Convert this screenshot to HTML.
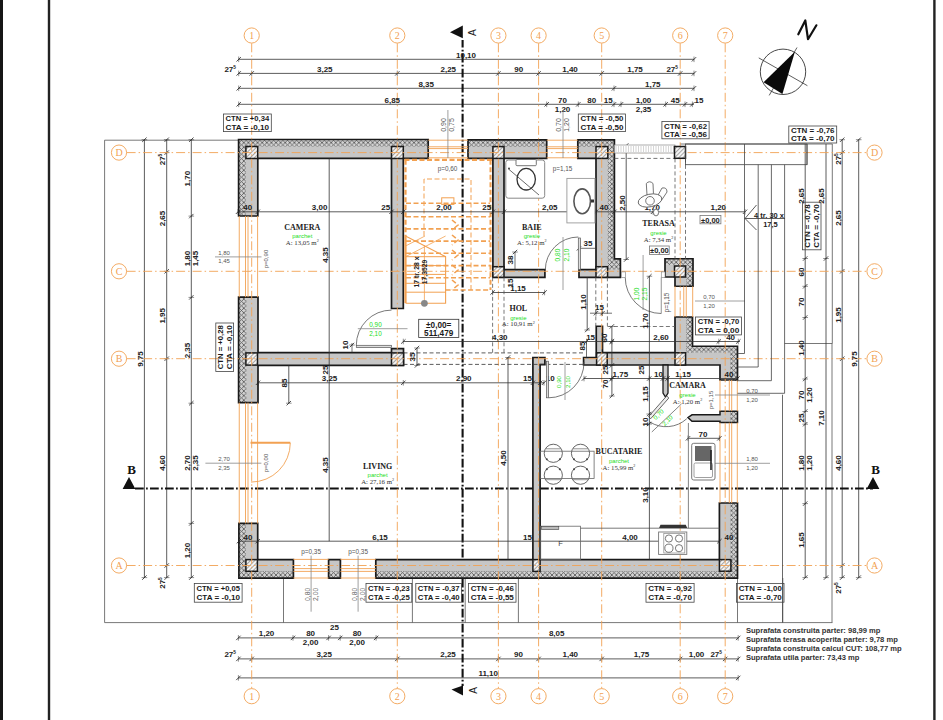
<!DOCTYPE html>
<html><head><meta charset="utf-8"><style>
html,body{margin:0;padding:0;background:#fff;}
svg{display:block;}
</style></head><body>
<svg width="943" height="720" viewBox="0 0 943 720">
<defs>
<pattern id="xh" width="4.6" height="4.6" patternUnits="userSpaceOnUse">
<rect width="4.6" height="4.6" fill="#d2d2d2"/>
<path d="M-1,-1 L5.6,5.6 M5.6,-1 L-1,5.6" stroke="#5a5a5a" stroke-width="0.85"/>
</pattern>
<pattern id="dh" width="3" height="3" patternUnits="userSpaceOnUse" patternTransform="rotate(45)">
<rect width="3" height="3" fill="#f4f4f4"/>
<path d="M0,0 L0,3" stroke="#555" stroke-width="1"/>
</pattern>
</defs>
<rect width="943" height="720" fill="#fff"/>
<rect x="0" y="0" width="3" height="720" fill="#161616" stroke="none" stroke-width="0" />
<rect x="47.8" y="0" width="2.4" height="720" fill="#222" stroke="none" stroke-width="0" />
<rect x="933.2" y="0" width="2.4" height="720" fill="#222" stroke="none" stroke-width="0" />
<circle cx="251.7" cy="35.5" r="7.6" fill="#fff" stroke="#f2a152" stroke-width="0.9"/>
<text x="251.7" y="39.1" font-family="Liberation Serif" font-size="10" font-weight="normal" fill="#f2a152" text-anchor="middle" >1</text>
<circle cx="251.7" cy="696.2" r="7.6" fill="#fff" stroke="#f2a152" stroke-width="0.9"/>
<text x="251.7" y="699.8000000000001" font-family="Liberation Serif" font-size="10" font-weight="normal" fill="#f2a152" text-anchor="middle" >1</text>
<circle cx="397.3" cy="35.5" r="7.6" fill="#fff" stroke="#f2a152" stroke-width="0.9"/>
<text x="397.3" y="39.1" font-family="Liberation Serif" font-size="10" font-weight="normal" fill="#f2a152" text-anchor="middle" >2</text>
<circle cx="397.3" cy="696.2" r="7.6" fill="#fff" stroke="#f2a152" stroke-width="0.9"/>
<text x="397.3" y="699.8000000000001" font-family="Liberation Serif" font-size="10" font-weight="normal" fill="#f2a152" text-anchor="middle" >2</text>
<circle cx="498.4" cy="35.5" r="7.6" fill="#fff" stroke="#f2a152" stroke-width="0.9"/>
<text x="498.4" y="39.1" font-family="Liberation Serif" font-size="10" font-weight="normal" fill="#f2a152" text-anchor="middle" >3</text>
<circle cx="498.4" cy="696.2" r="7.6" fill="#fff" stroke="#f2a152" stroke-width="0.9"/>
<text x="498.4" y="699.8000000000001" font-family="Liberation Serif" font-size="10" font-weight="normal" fill="#f2a152" text-anchor="middle" >3</text>
<circle cx="538.6" cy="35.5" r="7.6" fill="#fff" stroke="#f2a152" stroke-width="0.9"/>
<text x="538.6" y="39.1" font-family="Liberation Serif" font-size="10" font-weight="normal" fill="#f2a152" text-anchor="middle" >4</text>
<circle cx="538.6" cy="696.2" r="7.6" fill="#fff" stroke="#f2a152" stroke-width="0.9"/>
<text x="538.6" y="699.8000000000001" font-family="Liberation Serif" font-size="10" font-weight="normal" fill="#f2a152" text-anchor="middle" >4</text>
<circle cx="601.7" cy="35.5" r="7.6" fill="#fff" stroke="#f2a152" stroke-width="0.9"/>
<text x="601.7" y="39.1" font-family="Liberation Serif" font-size="10" font-weight="normal" fill="#f2a152" text-anchor="middle" >5</text>
<circle cx="601.7" cy="696.2" r="7.6" fill="#fff" stroke="#f2a152" stroke-width="0.9"/>
<text x="601.7" y="699.8000000000001" font-family="Liberation Serif" font-size="10" font-weight="normal" fill="#f2a152" text-anchor="middle" >5</text>
<circle cx="680.2" cy="35.5" r="7.6" fill="#fff" stroke="#f2a152" stroke-width="0.9"/>
<text x="680.2" y="39.1" font-family="Liberation Serif" font-size="10" font-weight="normal" fill="#f2a152" text-anchor="middle" >6</text>
<circle cx="680.2" cy="696.2" r="7.6" fill="#fff" stroke="#f2a152" stroke-width="0.9"/>
<text x="680.2" y="699.8000000000001" font-family="Liberation Serif" font-size="10" font-weight="normal" fill="#f2a152" text-anchor="middle" >6</text>
<circle cx="725.2" cy="35.5" r="7.6" fill="#fff" stroke="#f2a152" stroke-width="0.9"/>
<text x="725.2" y="39.1" font-family="Liberation Serif" font-size="10" font-weight="normal" fill="#f2a152" text-anchor="middle" >7</text>
<circle cx="725.2" cy="696.2" r="7.6" fill="#fff" stroke="#f2a152" stroke-width="0.9"/>
<text x="725.2" y="699.8000000000001" font-family="Liberation Serif" font-size="10" font-weight="normal" fill="#f2a152" text-anchor="middle" >7</text>
<circle cx="119" cy="152.6" r="7.6" fill="#fff" stroke="#f2a152" stroke-width="0.9"/>
<text x="119" y="156.2" font-family="Liberation Serif" font-size="10" font-weight="normal" fill="#f2a152" text-anchor="middle" >D</text>
<circle cx="874.5" cy="152.6" r="7.6" fill="#fff" stroke="#f2a152" stroke-width="0.9"/>
<text x="874.5" y="156.2" font-family="Liberation Serif" font-size="10" font-weight="normal" fill="#f2a152" text-anchor="middle" >D</text>
<circle cx="119" cy="271.3" r="7.6" fill="#fff" stroke="#f2a152" stroke-width="0.9"/>
<text x="119" y="274.90000000000003" font-family="Liberation Serif" font-size="10" font-weight="normal" fill="#f2a152" text-anchor="middle" >C</text>
<circle cx="874.5" cy="271.3" r="7.6" fill="#fff" stroke="#f2a152" stroke-width="0.9"/>
<text x="874.5" y="274.90000000000003" font-family="Liberation Serif" font-size="10" font-weight="normal" fill="#f2a152" text-anchor="middle" >C</text>
<circle cx="119" cy="358.7" r="7.6" fill="#fff" stroke="#f2a152" stroke-width="0.9"/>
<text x="119" y="362.3" font-family="Liberation Serif" font-size="10" font-weight="normal" fill="#f2a152" text-anchor="middle" >B</text>
<circle cx="874.5" cy="358.7" r="7.6" fill="#fff" stroke="#f2a152" stroke-width="0.9"/>
<text x="874.5" y="362.3" font-family="Liberation Serif" font-size="10" font-weight="normal" fill="#f2a152" text-anchor="middle" >B</text>
<circle cx="119" cy="565.5" r="7.6" fill="#fff" stroke="#f2a152" stroke-width="0.9"/>
<text x="119" y="569.1" font-family="Liberation Serif" font-size="10" font-weight="normal" fill="#f2a152" text-anchor="middle" >A</text>
<circle cx="874.5" cy="565.5" r="7.6" fill="#fff" stroke="#f2a152" stroke-width="0.9"/>
<text x="874.5" y="569.1" font-family="Liberation Serif" font-size="10" font-weight="normal" fill="#f2a152" text-anchor="middle" >A</text>
<line x1="104.6" y1="140.2" x2="238.5" y2="140.2" stroke="#555" stroke-width="0.8" />
<line x1="104.6" y1="140.2" x2="104.6" y2="622.6" stroke="#555" stroke-width="0.8" />
<line x1="104.6" y1="622.6" x2="832.4" y2="622.6" stroke="#555" stroke-width="0.8" />
<line x1="680" y1="144" x2="832.3" y2="144" stroke="#555" stroke-width="0.8" />
<line x1="832.3" y1="144" x2="832.3" y2="343.5" stroke="#555" stroke-width="0.8" />
<line x1="784.6" y1="343.5" x2="832.3" y2="343.5" stroke="#555" stroke-width="0.8" />
<line x1="832.0" y1="343.5" x2="832.0" y2="622.6" stroke="#555" stroke-width="0.8" />
<line x1="283.5" y1="578" x2="283.5" y2="622.6" stroke="#555" stroke-width="0.8" />
<line x1="412.4" y1="578" x2="412.4" y2="622.6" stroke="#555" stroke-width="0.8" />
<line x1="465.2" y1="578" x2="465.2" y2="622.6" stroke="#555" stroke-width="0.8" />
<line x1="518.4" y1="578" x2="518.4" y2="622.6" stroke="#555" stroke-width="0.8" />
<line x1="737.5" y1="578" x2="737.5" y2="622.6" stroke="#555" stroke-width="0.8" />
<line x1="782.8" y1="578" x2="782.8" y2="622.6" stroke="#555" stroke-width="0.8" />
<line x1="238.7" y1="59.3" x2="694" y2="59.3" stroke="#333" stroke-width="0.8" />
<line x1="236.5" y1="61.5" x2="240.89999999999998" y2="57.099999999999994" stroke="#222" stroke-width="0.8" />
<line x1="238.7" y1="56.5" x2="238.7" y2="62.099999999999994" stroke="#222" stroke-width="0.5" />
<line x1="691.8" y1="61.5" x2="696.2" y2="57.099999999999994" stroke="#222" stroke-width="0.8" />
<line x1="694" y1="56.5" x2="694" y2="62.099999999999994" stroke="#222" stroke-width="0.5" />
<line x1="238.7" y1="73.4" x2="694" y2="73.4" stroke="#333" stroke-width="0.8" />
<line x1="236.5" y1="75.60000000000001" x2="240.89999999999998" y2="71.2" stroke="#222" stroke-width="0.8" />
<line x1="238.7" y1="70.60000000000001" x2="238.7" y2="76.2" stroke="#222" stroke-width="0.5" />
<line x1="249.5" y1="75.60000000000001" x2="253.89999999999998" y2="71.2" stroke="#222" stroke-width="0.8" />
<line x1="251.7" y1="70.60000000000001" x2="251.7" y2="76.2" stroke="#222" stroke-width="0.5" />
<line x1="395.1" y1="75.60000000000001" x2="399.5" y2="71.2" stroke="#222" stroke-width="0.8" />
<line x1="397.3" y1="70.60000000000001" x2="397.3" y2="76.2" stroke="#222" stroke-width="0.5" />
<line x1="496.2" y1="75.60000000000001" x2="500.59999999999997" y2="71.2" stroke="#222" stroke-width="0.8" />
<line x1="498.4" y1="70.60000000000001" x2="498.4" y2="76.2" stroke="#222" stroke-width="0.5" />
<line x1="536.4" y1="75.60000000000001" x2="540.8000000000001" y2="71.2" stroke="#222" stroke-width="0.8" />
<line x1="538.6" y1="70.60000000000001" x2="538.6" y2="76.2" stroke="#222" stroke-width="0.5" />
<line x1="599.5" y1="75.60000000000001" x2="603.9000000000001" y2="71.2" stroke="#222" stroke-width="0.8" />
<line x1="601.7" y1="70.60000000000001" x2="601.7" y2="76.2" stroke="#222" stroke-width="0.5" />
<line x1="678.0" y1="75.60000000000001" x2="682.4000000000001" y2="71.2" stroke="#222" stroke-width="0.8" />
<line x1="680.2" y1="70.60000000000001" x2="680.2" y2="76.2" stroke="#222" stroke-width="0.5" />
<line x1="691.8" y1="75.60000000000001" x2="696.2" y2="71.2" stroke="#222" stroke-width="0.8" />
<line x1="694" y1="70.60000000000001" x2="694" y2="76.2" stroke="#222" stroke-width="0.5" />
<line x1="238.7" y1="88.3" x2="694" y2="88.3" stroke="#333" stroke-width="0.8" />
<line x1="236.5" y1="90.5" x2="240.89999999999998" y2="86.1" stroke="#222" stroke-width="0.8" />
<line x1="238.7" y1="85.5" x2="238.7" y2="91.1" stroke="#222" stroke-width="0.5" />
<line x1="611.8" y1="90.5" x2="616.2" y2="86.1" stroke="#222" stroke-width="0.8" />
<line x1="614" y1="85.5" x2="614" y2="91.1" stroke="#222" stroke-width="0.5" />
<line x1="691.8" y1="90.5" x2="696.2" y2="86.1" stroke="#222" stroke-width="0.8" />
<line x1="694" y1="85.5" x2="694" y2="91.1" stroke="#222" stroke-width="0.5" />
<line x1="238.7" y1="104.3" x2="694" y2="104.3" stroke="#333" stroke-width="0.8" />
<line x1="236.5" y1="106.5" x2="240.89999999999998" y2="102.1" stroke="#222" stroke-width="0.8" />
<line x1="238.7" y1="101.5" x2="238.7" y2="107.1" stroke="#222" stroke-width="0.5" />
<line x1="544.5" y1="106.5" x2="548.9000000000001" y2="102.1" stroke="#222" stroke-width="0.8" />
<line x1="546.7" y1="101.5" x2="546.7" y2="107.1" stroke="#222" stroke-width="0.5" />
<line x1="576.0999999999999" y1="106.5" x2="580.5" y2="102.1" stroke="#222" stroke-width="0.8" />
<line x1="578.3" y1="101.5" x2="578.3" y2="107.1" stroke="#222" stroke-width="0.5" />
<line x1="611.8" y1="106.5" x2="616.2" y2="102.1" stroke="#222" stroke-width="0.8" />
<line x1="614" y1="101.5" x2="614" y2="107.1" stroke="#222" stroke-width="0.5" />
<line x1="618.8" y1="106.5" x2="623.2" y2="102.1" stroke="#222" stroke-width="0.8" />
<line x1="621" y1="101.5" x2="621" y2="107.1" stroke="#222" stroke-width="0.5" />
<line x1="663.5" y1="106.5" x2="667.9000000000001" y2="102.1" stroke="#222" stroke-width="0.8" />
<line x1="665.7" y1="101.5" x2="665.7" y2="107.1" stroke="#222" stroke-width="0.5" />
<line x1="682.8" y1="106.5" x2="687.2" y2="102.1" stroke="#222" stroke-width="0.8" />
<line x1="685" y1="101.5" x2="685" y2="107.1" stroke="#222" stroke-width="0.5" />
<line x1="690.1999999999999" y1="106.5" x2="694.6" y2="102.1" stroke="#222" stroke-width="0.8" />
<line x1="692.4" y1="101.5" x2="692.4" y2="107.1" stroke="#222" stroke-width="0.5" />
<line x1="238.4" y1="637.9" x2="738.2" y2="637.9" stroke="#333" stroke-width="0.8" />
<line x1="236.20000000000002" y1="640.1" x2="240.6" y2="635.6999999999999" stroke="#222" stroke-width="0.8" />
<line x1="238.4" y1="635.1" x2="238.4" y2="640.6999999999999" stroke="#222" stroke-width="0.5" />
<line x1="290.8" y1="640.1" x2="295.2" y2="635.6999999999999" stroke="#222" stroke-width="0.8" />
<line x1="293" y1="635.1" x2="293" y2="640.6999999999999" stroke="#222" stroke-width="0.5" />
<line x1="326.40000000000003" y1="640.1" x2="330.8" y2="635.6999999999999" stroke="#222" stroke-width="0.8" />
<line x1="328.6" y1="635.1" x2="328.6" y2="640.6999999999999" stroke="#222" stroke-width="0.5" />
<line x1="338.0" y1="640.1" x2="342.4" y2="635.6999999999999" stroke="#222" stroke-width="0.8" />
<line x1="340.2" y1="635.1" x2="340.2" y2="640.6999999999999" stroke="#222" stroke-width="0.5" />
<line x1="373.90000000000003" y1="640.1" x2="378.3" y2="635.6999999999999" stroke="#222" stroke-width="0.8" />
<line x1="376.1" y1="635.1" x2="376.1" y2="640.6999999999999" stroke="#222" stroke-width="0.5" />
<line x1="736.0" y1="640.1" x2="740.4000000000001" y2="635.6999999999999" stroke="#222" stroke-width="0.8" />
<line x1="738.2" y1="635.1" x2="738.2" y2="640.6999999999999" stroke="#222" stroke-width="0.5" />
<line x1="238.4" y1="658.9" x2="738.2" y2="658.9" stroke="#333" stroke-width="0.8" />
<line x1="236.20000000000002" y1="661.1" x2="240.6" y2="656.6999999999999" stroke="#222" stroke-width="0.8" />
<line x1="238.4" y1="656.1" x2="238.4" y2="661.6999999999999" stroke="#222" stroke-width="0.5" />
<line x1="249.5" y1="661.1" x2="253.89999999999998" y2="656.6999999999999" stroke="#222" stroke-width="0.8" />
<line x1="251.7" y1="656.1" x2="251.7" y2="661.6999999999999" stroke="#222" stroke-width="0.5" />
<line x1="395.1" y1="661.1" x2="399.5" y2="656.6999999999999" stroke="#222" stroke-width="0.8" />
<line x1="397.3" y1="656.1" x2="397.3" y2="661.6999999999999" stroke="#222" stroke-width="0.5" />
<line x1="496.2" y1="661.1" x2="500.59999999999997" y2="656.6999999999999" stroke="#222" stroke-width="0.8" />
<line x1="498.4" y1="656.1" x2="498.4" y2="661.6999999999999" stroke="#222" stroke-width="0.5" />
<line x1="536.4" y1="661.1" x2="540.8000000000001" y2="656.6999999999999" stroke="#222" stroke-width="0.8" />
<line x1="538.6" y1="656.1" x2="538.6" y2="661.6999999999999" stroke="#222" stroke-width="0.5" />
<line x1="599.5" y1="661.1" x2="603.9000000000001" y2="656.6999999999999" stroke="#222" stroke-width="0.8" />
<line x1="601.7" y1="656.1" x2="601.7" y2="661.6999999999999" stroke="#222" stroke-width="0.5" />
<line x1="678.0" y1="661.1" x2="682.4000000000001" y2="656.6999999999999" stroke="#222" stroke-width="0.8" />
<line x1="680.2" y1="656.1" x2="680.2" y2="661.6999999999999" stroke="#222" stroke-width="0.5" />
<line x1="723.0" y1="661.1" x2="727.4000000000001" y2="656.6999999999999" stroke="#222" stroke-width="0.8" />
<line x1="725.2" y1="656.1" x2="725.2" y2="661.6999999999999" stroke="#222" stroke-width="0.5" />
<line x1="736.0" y1="661.1" x2="740.4000000000001" y2="656.6999999999999" stroke="#222" stroke-width="0.8" />
<line x1="738.2" y1="656.1" x2="738.2" y2="661.6999999999999" stroke="#222" stroke-width="0.5" />
<line x1="238.4" y1="677.9" x2="738.2" y2="677.9" stroke="#333" stroke-width="0.8" />
<line x1="236.20000000000002" y1="680.1" x2="240.6" y2="675.6999999999999" stroke="#222" stroke-width="0.8" />
<line x1="238.4" y1="675.1" x2="238.4" y2="680.6999999999999" stroke="#222" stroke-width="0.5" />
<line x1="736.0" y1="680.1" x2="740.4000000000001" y2="675.6999999999999" stroke="#222" stroke-width="0.8" />
<line x1="738.2" y1="675.1" x2="738.2" y2="680.6999999999999" stroke="#222" stroke-width="0.5" />
<line x1="144.4" y1="139.7" x2="144.4" y2="577.6" stroke="#333" stroke-width="0.8" />
<line x1="142.20000000000002" y1="141.89999999999998" x2="146.6" y2="137.5" stroke="#222" stroke-width="0.8" />
<line x1="141.6" y1="139.7" x2="147.20000000000002" y2="139.7" stroke="#222" stroke-width="0.5" />
<line x1="142.20000000000002" y1="579.8000000000001" x2="146.6" y2="575.4" stroke="#222" stroke-width="0.8" />
<line x1="141.6" y1="577.6" x2="147.20000000000002" y2="577.6" stroke="#222" stroke-width="0.5" />
<line x1="166.7" y1="139.7" x2="166.7" y2="577.6" stroke="#333" stroke-width="0.8" />
<line x1="164.5" y1="141.89999999999998" x2="168.89999999999998" y2="137.5" stroke="#222" stroke-width="0.8" />
<line x1="163.89999999999998" y1="139.7" x2="169.5" y2="139.7" stroke="#222" stroke-width="0.5" />
<line x1="164.5" y1="154.79999999999998" x2="168.89999999999998" y2="150.4" stroke="#222" stroke-width="0.8" />
<line x1="163.89999999999998" y1="152.6" x2="169.5" y2="152.6" stroke="#222" stroke-width="0.5" />
<line x1="164.5" y1="273.5" x2="168.89999999999998" y2="269.1" stroke="#222" stroke-width="0.8" />
<line x1="163.89999999999998" y1="271.3" x2="169.5" y2="271.3" stroke="#222" stroke-width="0.5" />
<line x1="164.5" y1="360.9" x2="168.89999999999998" y2="356.5" stroke="#222" stroke-width="0.8" />
<line x1="163.89999999999998" y1="358.7" x2="169.5" y2="358.7" stroke="#222" stroke-width="0.5" />
<line x1="164.5" y1="567.7" x2="168.89999999999998" y2="563.3" stroke="#222" stroke-width="0.8" />
<line x1="163.89999999999998" y1="565.5" x2="169.5" y2="565.5" stroke="#222" stroke-width="0.5" />
<line x1="164.5" y1="579.8000000000001" x2="168.89999999999998" y2="575.4" stroke="#222" stroke-width="0.8" />
<line x1="163.89999999999998" y1="577.6" x2="169.5" y2="577.6" stroke="#222" stroke-width="0.5" />
<line x1="191.3" y1="139.7" x2="191.3" y2="577.6" stroke="#333" stroke-width="0.8" />
<line x1="189.10000000000002" y1="141.89999999999998" x2="193.5" y2="137.5" stroke="#222" stroke-width="0.8" />
<line x1="188.5" y1="139.7" x2="194.10000000000002" y2="139.7" stroke="#222" stroke-width="0.5" />
<line x1="189.10000000000002" y1="218.29999999999998" x2="193.5" y2="213.9" stroke="#222" stroke-width="0.8" />
<line x1="188.5" y1="216.1" x2="194.10000000000002" y2="216.1" stroke="#222" stroke-width="0.5" />
<line x1="189.10000000000002" y1="299.59999999999997" x2="193.5" y2="295.2" stroke="#222" stroke-width="0.8" />
<line x1="188.5" y1="297.4" x2="194.10000000000002" y2="297.4" stroke="#222" stroke-width="0.5" />
<line x1="189.10000000000002" y1="405.4" x2="193.5" y2="401.0" stroke="#222" stroke-width="0.8" />
<line x1="188.5" y1="403.2" x2="194.10000000000002" y2="403.2" stroke="#222" stroke-width="0.5" />
<line x1="189.10000000000002" y1="525.6" x2="193.5" y2="521.1999999999999" stroke="#222" stroke-width="0.8" />
<line x1="188.5" y1="523.4" x2="194.10000000000002" y2="523.4" stroke="#222" stroke-width="0.5" />
<line x1="189.10000000000002" y1="579.8000000000001" x2="193.5" y2="575.4" stroke="#222" stroke-width="0.8" />
<line x1="188.5" y1="577.6" x2="194.10000000000002" y2="577.6" stroke="#222" stroke-width="0.5" />
<line x1="805.2" y1="144" x2="805.2" y2="577.6" stroke="#333" stroke-width="0.8" />
<line x1="803.0" y1="260.7" x2="807.4000000000001" y2="256.3" stroke="#222" stroke-width="0.8" />
<line x1="802.4000000000001" y1="258.5" x2="808.0" y2="258.5" stroke="#222" stroke-width="0.5" />
<line x1="803.0" y1="288.5" x2="807.4000000000001" y2="284.1" stroke="#222" stroke-width="0.8" />
<line x1="802.4000000000001" y1="286.3" x2="808.0" y2="286.3" stroke="#222" stroke-width="0.5" />
<line x1="803.0" y1="319.7" x2="807.4000000000001" y2="315.3" stroke="#222" stroke-width="0.8" />
<line x1="802.4000000000001" y1="317.5" x2="808.0" y2="317.5" stroke="#222" stroke-width="0.5" />
<line x1="803.0" y1="381.2" x2="807.4000000000001" y2="376.8" stroke="#222" stroke-width="0.8" />
<line x1="802.4000000000001" y1="379" x2="808.0" y2="379" stroke="#222" stroke-width="0.5" />
<line x1="803.0" y1="413.7" x2="807.4000000000001" y2="409.3" stroke="#222" stroke-width="0.8" />
<line x1="802.4000000000001" y1="411.5" x2="808.0" y2="411.5" stroke="#222" stroke-width="0.5" />
<line x1="803.0" y1="426.4" x2="807.4000000000001" y2="422.0" stroke="#222" stroke-width="0.8" />
<line x1="802.4000000000001" y1="424.2" x2="808.0" y2="424.2" stroke="#222" stroke-width="0.5" />
<line x1="803.0" y1="505.8" x2="807.4000000000001" y2="501.40000000000003" stroke="#222" stroke-width="0.8" />
<line x1="802.4000000000001" y1="503.6" x2="808.0" y2="503.6" stroke="#222" stroke-width="0.5" />
<line x1="803.0" y1="579.8000000000001" x2="807.4000000000001" y2="575.4" stroke="#222" stroke-width="0.8" />
<line x1="802.4000000000001" y1="577.6" x2="808.0" y2="577.6" stroke="#222" stroke-width="0.5" />
<line x1="826.0" y1="144" x2="826.0" y2="577.6" stroke="#333" stroke-width="0.8" />
<line x1="823.8" y1="260.7" x2="828.2" y2="256.3" stroke="#222" stroke-width="0.8" />
<line x1="823.2" y1="258.5" x2="828.8" y2="258.5" stroke="#222" stroke-width="0.5" />
<line x1="823.8" y1="579.8000000000001" x2="828.2" y2="575.4" stroke="#222" stroke-width="0.8" />
<line x1="823.2" y1="577.6" x2="828.8" y2="577.6" stroke="#222" stroke-width="0.5" />
<line x1="842.2" y1="139.7" x2="842.2" y2="577.6" stroke="#333" stroke-width="0.8" />
<line x1="840.0" y1="141.89999999999998" x2="844.4000000000001" y2="137.5" stroke="#222" stroke-width="0.8" />
<line x1="839.4000000000001" y1="139.7" x2="845.0" y2="139.7" stroke="#222" stroke-width="0.5" />
<line x1="840.0" y1="154.79999999999998" x2="844.4000000000001" y2="150.4" stroke="#222" stroke-width="0.8" />
<line x1="839.4000000000001" y1="152.6" x2="845.0" y2="152.6" stroke="#222" stroke-width="0.5" />
<line x1="840.0" y1="273.5" x2="844.4000000000001" y2="269.1" stroke="#222" stroke-width="0.8" />
<line x1="839.4000000000001" y1="271.3" x2="845.0" y2="271.3" stroke="#222" stroke-width="0.5" />
<line x1="840.0" y1="360.9" x2="844.4000000000001" y2="356.5" stroke="#222" stroke-width="0.8" />
<line x1="839.4000000000001" y1="358.7" x2="845.0" y2="358.7" stroke="#222" stroke-width="0.5" />
<line x1="840.0" y1="567.7" x2="844.4000000000001" y2="563.3" stroke="#222" stroke-width="0.8" />
<line x1="839.4000000000001" y1="565.5" x2="845.0" y2="565.5" stroke="#222" stroke-width="0.5" />
<line x1="840.0" y1="579.8000000000001" x2="844.4000000000001" y2="575.4" stroke="#222" stroke-width="0.8" />
<line x1="839.4000000000001" y1="577.6" x2="845.0" y2="577.6" stroke="#222" stroke-width="0.5" />
<line x1="858.7" y1="139.7" x2="858.7" y2="577.6" stroke="#333" stroke-width="0.8" />
<line x1="856.5" y1="141.89999999999998" x2="860.9000000000001" y2="137.5" stroke="#222" stroke-width="0.8" />
<line x1="855.9000000000001" y1="139.7" x2="861.5" y2="139.7" stroke="#222" stroke-width="0.5" />
<line x1="856.5" y1="579.8000000000001" x2="860.9000000000001" y2="575.4" stroke="#222" stroke-width="0.8" />
<line x1="855.9000000000001" y1="577.6" x2="861.5" y2="577.6" stroke="#222" stroke-width="0.5" />
<line x1="462.6" y1="40" x2="462.6" y2="686" stroke="#111" stroke-width="2.1" stroke-dasharray="8.75 2.3 1.7 2.25" stroke-dashoffset="1.25"/>
<line x1="135" y1="488.5" x2="873" y2="488.5" stroke="#111" stroke-width="2.1" stroke-dasharray="8.75 2.3 1.7 2.25"/>
<polygon points="450,32.3 462.8,25.5 462.8,38.2" fill="#111"/>
<polygon points="451.5,689.4 463,685.4 463,695.5" fill="#111"/>
<polygon points="122.6,489 129,477 135.4,489" fill="#111"/>
<polygon points="866.6,489 873,477 879.4,489" fill="#111"/>
<text x="131.5" y="473.5" font-family="Liberation Serif" font-size="13" font-weight="bold" fill="#111" text-anchor="middle" >B</text>
<text x="875.5" y="473.5" font-family="Liberation Serif" font-size="13" font-weight="bold" fill="#111" text-anchor="middle" >B</text>
<text x="476.5" y="32.6" font-family="Liberation Sans" font-size="10" font-weight="normal" fill="#222" text-anchor="middle" transform="rotate(-90 476.5 32.6)" >A</text>
<text x="476.5" y="690.5" font-family="Liberation Sans" font-size="10" font-weight="normal" fill="#222" text-anchor="middle" transform="rotate(-90 476.5 690.5)" >A</text>
<polygon points="238.6,139.5 428.2,139.5 428.2,158.4 403.3,158.4 403.3,308.5 391.5,308.5 391.5,158.4 257.8,158.4 257.8,216 238.6,216" fill="#c6c6c6"/>
<rect x="238.6" y="139.5" width="189.6" height="7.0" fill="url(#xh)" stroke="none" stroke-width="0" />
<rect x="238.6" y="139.5" width="7.3" height="76.5" fill="url(#xh)" stroke="none" stroke-width="0" />
<polygon points="238.6,139.5 428.2,139.5 428.2,158.4 403.3,158.4 403.3,308.5 391.5,308.5 391.5,158.4 257.8,158.4 257.8,216 238.6,216" fill="none" stroke="#1a1a1a" stroke-width="1.7" stroke-linejoin="miter"/>
<rect x="245.9" y="146.5" width="11.8" height="12" fill="url(#dh)" stroke="#1a1a1a" stroke-width="1.5" />
<rect x="391.5" y="146.5" width="11.8" height="12" fill="url(#dh)" stroke="#1a1a1a" stroke-width="1.5" />
<polygon points="468,139.8 546.7,139.8 546.7,158.4 504,158.4 504,269.6 544.9,269.6 544.9,277.3 492.9,277.3 492.9,158.4 468,158.4" fill="#c6c6c6"/>
<rect x="468" y="139.8" width="78.7" height="6.9" fill="url(#xh)" stroke="none" stroke-width="0" />
<polygon points="468,139.8 546.7,139.8 546.7,158.4 504,158.4 504,269.6 544.9,269.6 544.9,277.3 492.9,277.3 492.9,158.4 468,158.4" fill="none" stroke="#1a1a1a" stroke-width="1.7" stroke-linejoin="miter"/>
<rect x="492.9" y="146.6" width="11.1" height="11.8" fill="url(#dh)" stroke="#1a1a1a" stroke-width="1.5" />
<rect x="492.9" y="266.7" width="11.1" height="10.6" fill="url(#dh)" stroke="#1a1a1a" stroke-width="1.5" />
<polygon points="577.8,139.8 614.4,139.8 614.4,258.9 620.4,258.9 620.4,277.3 579,277.3 579,269.6 596,269.6 596,158.4 577.8,158.4" fill="#c6c6c6"/>
<rect x="577.8" y="139.8" width="36.6" height="6.9" fill="url(#xh)" stroke="none" stroke-width="0" />
<rect x="607.8" y="139.8" width="6.6" height="119.1" fill="url(#xh)" stroke="none" stroke-width="0" />
<rect x="607.8" y="258.9" width="12.6" height="10.7" fill="url(#xh)" stroke="none" stroke-width="0" />
<polygon points="577.8,139.8 614.4,139.8 614.4,258.9 620.4,258.9 620.4,277.3 579,277.3 579,269.6 596,269.6 596,158.4 577.8,158.4" fill="none" stroke="#1a1a1a" stroke-width="1.7" stroke-linejoin="miter"/>
<rect x="596" y="146.6" width="11.8" height="11.8" fill="url(#dh)" stroke="#1a1a1a" stroke-width="1.5" />
<rect x="596" y="266.7" width="11.6" height="10.6" fill="url(#dh)" stroke="#1a1a1a" stroke-width="1.5" />
<polygon points="238.6,297.2 258,297.2 258,352.7 391.5,352.7 391.5,348.6 403.5,348.6 403.5,365.4 258,365.4 258,402.6 238.6,402.6" fill="#c6c6c6"/>
<rect x="238.6" y="297.2" width="7.9" height="105.4" fill="url(#xh)" stroke="none" stroke-width="0" />
<polygon points="238.6,297.2 258,297.2 258,352.7 391.5,352.7 391.5,348.6 403.5,348.6 403.5,365.4 258,365.4 258,402.6 238.6,402.6" fill="none" stroke="#1a1a1a" stroke-width="1.7" stroke-linejoin="miter"/>
<rect x="245.9" y="352.9" width="11.6" height="12.2" fill="url(#dh)" stroke="#1a1a1a" stroke-width="1.5" />
<rect x="391.5" y="352.9" width="12" height="12.5" fill="url(#dh)" stroke="#1a1a1a" stroke-width="1.5" />
<polygon points="238.9,523.4 257.7,523.4 257.7,559.6 293.4,559.6 293.4,578.1 238.9,578.1" fill="#c6c6c6"/>
<rect x="238.9" y="523.4" width="7.1" height="54.7" fill="url(#xh)" stroke="none" stroke-width="0" />
<rect x="238.9" y="571.0" width="54.5" height="7.1" fill="url(#xh)" stroke="none" stroke-width="0" />
<polygon points="238.9,523.4 257.7,523.4 257.7,559.6 293.4,559.6 293.4,578.1 238.9,578.1" fill="none" stroke="#1a1a1a" stroke-width="1.7" stroke-linejoin="miter"/>
<rect x="245.9" y="559.6" width="11.5" height="11.7" fill="url(#dh)" stroke="#1a1a1a" stroke-width="1.5" />
<polygon points="328.6,559.6 340.4,559.6 340.4,578.1 328.6,578.1" fill="#c6c6c6"/>
<rect x="328.6" y="571.0" width="11.8" height="7.1" fill="url(#xh)" stroke="none" stroke-width="0" />
<polygon points="328.6,559.6 340.4,559.6 340.4,578.1 328.6,578.1" fill="none" stroke="#1a1a1a" stroke-width="1.7" stroke-linejoin="miter"/>
<polygon points="375.8,559.6 532.9,559.6 532.9,364.6 532.9,357.5 544.9,357.5 544.9,364.6 540.1,364.6 540.1,559.6 719.4,559.6 719.4,503 737.5,503 737.5,578.1 375.8,578.1" fill="#c6c6c6"/>
<rect x="375.8" y="571.0" width="361.7" height="7.1" fill="url(#xh)" stroke="none" stroke-width="0" />
<rect x="730.4" y="503" width="7.1" height="75.1" fill="url(#xh)" stroke="none" stroke-width="0" />
<polygon points="375.8,559.6 532.9,559.6 532.9,364.6 532.9,357.5 544.9,357.5 544.9,364.6 540.1,364.6 540.1,559.6 719.4,559.6 719.4,503 737.5,503 737.5,578.1 375.8,578.1" fill="none" stroke="#1a1a1a" stroke-width="1.7" stroke-linejoin="miter"/>
<rect x="532.9" y="559.6" width="7.2" height="11.8" fill="url(#dh)" stroke="#1a1a1a" stroke-width="1.5" />
<rect x="719.4" y="559.6" width="11.5" height="11.6" fill="url(#dh)" stroke="#1a1a1a" stroke-width="1.5" />
<polygon points="583.6,357.5 596.25,357.5 596.25,326.25 602.5,326.25 602.5,352.6 675,352.6 675,317 692.5,317 692.5,346.25 737.5,346.25 737.5,380 720,380 720,365 583.6,365" fill="#c6c6c6"/>
<rect x="686.2" y="317" width="6.3" height="35.6" fill="url(#xh)" stroke="none" stroke-width="0" />
<rect x="686.2" y="346.25" width="51.3" height="6.3" fill="url(#xh)" stroke="none" stroke-width="0" />
<rect x="730.2" y="346.25" width="7.3" height="33.75" fill="url(#xh)" stroke="none" stroke-width="0" />
<polygon points="583.6,357.5 596.25,357.5 596.25,326.25 602.5,326.25 602.5,352.6 675,352.6 675,317 692.5,317 692.5,346.25 737.5,346.25 737.5,380 720,380 720,365 583.6,365" fill="none" stroke="#1a1a1a" stroke-width="1.7" stroke-linejoin="miter"/>
<rect x="596.6" y="352.8" width="10.6" height="12.2" fill="url(#dh)" stroke="#1a1a1a" stroke-width="1.5" />
<rect x="675" y="352.8" width="10.6" height="12.2" fill="url(#dh)" stroke="#1a1a1a" stroke-width="1.5" />
<polygon points="665,258.75 693,258.75 693,286.25 675,286.25 675,277 665,277" fill="#c6c6c6"/>
<rect x="665" y="258.75" width="28" height="6.3" fill="url(#xh)" stroke="none" stroke-width="0" />
<rect x="686.2" y="258.75" width="6.8" height="27.5" fill="url(#xh)" stroke="none" stroke-width="0" />
<polygon points="665,258.75 693,258.75 693,286.25 675,286.25 675,277 665,277" fill="none" stroke="#1a1a1a" stroke-width="1.7" stroke-linejoin="miter"/>
<rect x="674.5" y="266" width="11" height="11" fill="url(#dh)" stroke="#1a1a1a" stroke-width="1.5" />
<polygon points="663,365 668,365 668,393 665.5,397 663,393" fill="#c6c6c6" stroke="#1a1a1a" stroke-width="1.3" stroke-linejoin="miter"/>
<polygon points="688,417.5 692,414.8 720,414.8 720,411.2 737.5,411.2 737.5,422.6 720,422.6 720,421.3 692,421.3" fill="#c6c6c6"/>
<rect x="730.2" y="411.2" width="7.3" height="11.4" fill="url(#xh)" stroke="none" stroke-width="0" />
<polygon points="688,417.5 692,414.8 720,414.8 720,411.2 737.5,411.2 737.5,422.6 720,422.6 720,421.3 692,421.3" fill="none" stroke="#1a1a1a" stroke-width="1.5" stroke-linejoin="miter"/>
<line x1="251.7" y1="43.3" x2="251.7" y2="688.4" stroke="#f2a152" stroke-width="0.9" stroke-dasharray="9 3 1.5 3"/>
<line x1="397.3" y1="43.3" x2="397.3" y2="688.4" stroke="#f2a152" stroke-width="0.9" stroke-dasharray="9 3 1.5 3"/>
<line x1="498.4" y1="43.3" x2="498.4" y2="688.4" stroke="#f2a152" stroke-width="0.9" stroke-dasharray="9 3 1.5 3"/>
<line x1="538.6" y1="43.3" x2="538.6" y2="688.4" stroke="#f2a152" stroke-width="0.9" stroke-dasharray="9 3 1.5 3"/>
<line x1="601.7" y1="43.3" x2="601.7" y2="688.4" stroke="#f2a152" stroke-width="0.9" stroke-dasharray="9 3 1.5 3"/>
<line x1="680.2" y1="43.3" x2="680.2" y2="688.4" stroke="#f2a152" stroke-width="0.9" stroke-dasharray="9 3 1.5 3"/>
<line x1="725.2" y1="43.3" x2="725.2" y2="688.4" stroke="#f2a152" stroke-width="0.9" stroke-dasharray="9 3 1.5 3"/>
<line x1="126.6" y1="152.6" x2="866.9" y2="152.6" stroke="#f2a152" stroke-width="0.9" stroke-dasharray="9 3 1.5 3"/>
<line x1="126.6" y1="271.3" x2="866.9" y2="271.3" stroke="#f2a152" stroke-width="0.9" stroke-dasharray="9 3 1.5 3"/>
<line x1="126.6" y1="358.7" x2="866.9" y2="358.7" stroke="#f2a152" stroke-width="0.9" stroke-dasharray="9 3 1.5 3"/>
<line x1="126.6" y1="565.5" x2="866.9" y2="565.5" stroke="#f2a152" stroke-width="0.9" stroke-dasharray="9 3 1.5 3"/>
<text x="466" y="57.6" font-family="Liberation Sans" font-size="8" font-weight="bold" fill="#222" text-anchor="middle" >10,10</text>
<text x="236" y="71.8" font-family="Liberation Sans" font-size="8" font-weight="bold" fill="#222" text-anchor="end">27<tspan font-size="4.8" dy="-3">5</tspan></text>
<text x="324.8" y="71.8" font-family="Liberation Sans" font-size="8" font-weight="bold" fill="#222" text-anchor="middle" >3,25</text>
<text x="448.3" y="71.8" font-family="Liberation Sans" font-size="8" font-weight="bold" fill="#222" text-anchor="middle" >2,25</text>
<text x="518.7" y="71.8" font-family="Liberation Sans" font-size="8" font-weight="bold" fill="#222" text-anchor="middle" >90</text>
<text x="570" y="71.8" font-family="Liberation Sans" font-size="8" font-weight="bold" fill="#222" text-anchor="middle" >1,40</text>
<text x="635" y="71.8" font-family="Liberation Sans" font-size="8" font-weight="bold" fill="#222" text-anchor="middle" >1,75</text>
<text x="678" y="71.8" font-family="Liberation Sans" font-size="8" font-weight="bold" fill="#222" text-anchor="end">27<tspan font-size="4.8" dy="-3">5</tspan></text>
<text x="426.2" y="86.6" font-family="Liberation Sans" font-size="8" font-weight="bold" fill="#222" text-anchor="middle" >8,35</text>
<text x="652.8" y="86.6" font-family="Liberation Sans" font-size="8" font-weight="bold" fill="#222" text-anchor="middle" >1,75</text>
<text x="392.3" y="102.6" font-family="Liberation Sans" font-size="8" font-weight="bold" fill="#222" text-anchor="middle" >6,85</text>
<text x="562.5" y="102.6" font-family="Liberation Sans" font-size="8" font-weight="bold" fill="#222" text-anchor="middle" >70</text>
<text x="562.5" y="112" font-family="Liberation Sans" font-size="8" font-weight="bold" fill="#222" text-anchor="middle" >1,20</text>
<text x="591.8" y="102.6" font-family="Liberation Sans" font-size="8" font-weight="bold" fill="#222" text-anchor="middle" >80</text>
<text x="608.3" y="102.6" font-family="Liberation Sans" font-size="8" font-weight="bold" fill="#222" text-anchor="middle" >15</text>
<text x="643.5" y="102.6" font-family="Liberation Sans" font-size="8" font-weight="bold" fill="#222" text-anchor="middle" >1,00</text>
<text x="643.5" y="112" font-family="Liberation Sans" font-size="8" font-weight="bold" fill="#222" text-anchor="middle" >2,35</text>
<text x="675.3" y="102.6" font-family="Liberation Sans" font-size="8" font-weight="bold" fill="#222" text-anchor="middle" >45</text>
<text x="699" y="102.6" font-family="Liberation Sans" font-size="8" font-weight="bold" fill="#222" text-anchor="middle" >15</text>
<text x="266.5" y="636.2" font-family="Liberation Sans" font-size="8" font-weight="bold" fill="#222" text-anchor="middle" >1,20</text>
<text x="310.6" y="636.2" font-family="Liberation Sans" font-size="8" font-weight="bold" fill="#222" text-anchor="middle" >80</text>
<text x="310.6" y="645.2" font-family="Liberation Sans" font-size="8" font-weight="bold" fill="#222" text-anchor="middle" >2,00</text>
<text x="334.4" y="630.2" font-family="Liberation Sans" font-size="8" font-weight="bold" fill="#222" text-anchor="middle" >25</text>
<text x="357.1" y="636.2" font-family="Liberation Sans" font-size="8" font-weight="bold" fill="#222" text-anchor="middle" >80</text>
<text x="357.1" y="645.2" font-family="Liberation Sans" font-size="8" font-weight="bold" fill="#222" text-anchor="middle" >2,00</text>
<text x="556.7" y="636.2" font-family="Liberation Sans" font-size="8" font-weight="bold" fill="#222" text-anchor="middle" >8,05</text>
<text x="236" y="657.2" font-family="Liberation Sans" font-size="8" font-weight="bold" fill="#222" text-anchor="end">27<tspan font-size="4.8" dy="-3">5</tspan></text>
<text x="324.2" y="657.2" font-family="Liberation Sans" font-size="8" font-weight="bold" fill="#222" text-anchor="middle" >3,25</text>
<text x="448" y="657.2" font-family="Liberation Sans" font-size="8" font-weight="bold" fill="#222" text-anchor="middle" >2,25</text>
<text x="518.4" y="657.2" font-family="Liberation Sans" font-size="8" font-weight="bold" fill="#222" text-anchor="middle" >90</text>
<text x="570.3" y="657.2" font-family="Liberation Sans" font-size="8" font-weight="bold" fill="#222" text-anchor="middle" >1,40</text>
<text x="641.5" y="657.2" font-family="Liberation Sans" font-size="8" font-weight="bold" fill="#222" text-anchor="middle" >1,75</text>
<text x="696.5" y="657.2" font-family="Liberation Sans" font-size="8" font-weight="bold" fill="#222" text-anchor="middle" >1,00</text>
<text x="722" y="657.2" font-family="Liberation Sans" font-size="8" font-weight="bold" fill="#222" text-anchor="end">27<tspan font-size="4.8" dy="-3">5</tspan></text>
<text x="488.2" y="676.2" font-family="Liberation Sans" font-size="8" font-weight="bold" fill="#222" text-anchor="middle" >11,10</text>
<text x="165" y="159.5" font-family="Liberation Sans" font-size="8" font-weight="bold" fill="#222" text-anchor="middle" transform="rotate(-90 165 159.5)">27<tspan font-size="4.8" dy="-3">5</tspan></text>
<text x="165" y="218.5" font-family="Liberation Sans" font-size="8" font-weight="bold" fill="#222" text-anchor="middle" transform="rotate(-90 165 218.5)" >2,65</text>
<text x="165" y="315.8" font-family="Liberation Sans" font-size="8" font-weight="bold" fill="#222" text-anchor="middle" transform="rotate(-90 165 315.8)" >1,95</text>
<text x="165" y="463" font-family="Liberation Sans" font-size="8" font-weight="bold" fill="#222" text-anchor="middle" transform="rotate(-90 165 463)" >4,60</text>
<text x="165" y="583" font-family="Liberation Sans" font-size="8" font-weight="bold" fill="#222" text-anchor="middle" transform="rotate(-90 165 583)">27<tspan font-size="4.8" dy="-3">5</tspan></text>
<text x="189.6" y="178.6" font-family="Liberation Sans" font-size="8" font-weight="bold" fill="#222" text-anchor="middle" transform="rotate(-90 189.6 178.6)" >1,70</text>
<text x="189.6" y="258.5" font-family="Liberation Sans" font-size="8" font-weight="bold" fill="#222" text-anchor="middle" transform="rotate(-90 189.6 258.5)" >1,80</text>
<text x="198" y="258.5" font-family="Liberation Sans" font-size="8" font-weight="bold" fill="#222" text-anchor="middle" transform="rotate(-90 198 258.5)" >1,45</text>
<text x="189.6" y="350.5" font-family="Liberation Sans" font-size="8" font-weight="bold" fill="#222" text-anchor="middle" transform="rotate(-90 189.6 350.5)" >2,35</text>
<text x="189.6" y="463" font-family="Liberation Sans" font-size="8" font-weight="bold" fill="#222" text-anchor="middle" transform="rotate(-90 189.6 463)" >2,70</text>
<text x="198" y="463" font-family="Liberation Sans" font-size="8" font-weight="bold" fill="#222" text-anchor="middle" transform="rotate(-90 198 463)" >2,35</text>
<text x="189.6" y="550.5" font-family="Liberation Sans" font-size="8" font-weight="bold" fill="#222" text-anchor="middle" transform="rotate(-90 189.6 550.5)" >1,20</text>
<text x="142.7" y="359" font-family="Liberation Sans" font-size="8" font-weight="bold" fill="#222" text-anchor="middle" transform="rotate(-90 142.7 359)" >9,75</text>
<text x="803.5" y="196" font-family="Liberation Sans" font-size="8" font-weight="bold" fill="#222" text-anchor="middle" transform="rotate(-90 803.5 196)" >2,65</text>
<text x="803.5" y="272" font-family="Liberation Sans" font-size="8" font-weight="bold" fill="#222" text-anchor="middle" transform="rotate(-90 803.5 272)" >60</text>
<text x="803.5" y="302" font-family="Liberation Sans" font-size="8" font-weight="bold" fill="#222" text-anchor="middle" transform="rotate(-90 803.5 302)" >70</text>
<text x="803.5" y="348" font-family="Liberation Sans" font-size="8" font-weight="bold" fill="#222" text-anchor="middle" transform="rotate(-90 803.5 348)" >1,40</text>
<text x="803.5" y="395" font-family="Liberation Sans" font-size="8" font-weight="bold" fill="#222" text-anchor="middle" transform="rotate(-90 803.5 395)" >70</text>
<text x="812" y="395" font-family="Liberation Sans" font-size="8" font-weight="bold" fill="#222" text-anchor="middle" transform="rotate(-90 812 395)" >1,20</text>
<text x="803.5" y="418" font-family="Liberation Sans" font-size="8" font-weight="bold" fill="#222" text-anchor="middle" transform="rotate(-90 803.5 418)" >25</text>
<text x="803.5" y="463" font-family="Liberation Sans" font-size="8" font-weight="bold" fill="#222" text-anchor="middle" transform="rotate(-90 803.5 463)" >1,80</text>
<text x="812" y="463" font-family="Liberation Sans" font-size="8" font-weight="bold" fill="#222" text-anchor="middle" transform="rotate(-90 812 463)" >1,20</text>
<text x="803.5" y="540" font-family="Liberation Sans" font-size="8" font-weight="bold" fill="#222" text-anchor="middle" transform="rotate(-90 803.5 540)" >1,65</text>
<text x="824.3" y="196" font-family="Liberation Sans" font-size="8" font-weight="bold" fill="#222" text-anchor="middle" transform="rotate(-90 824.3 196)" >2,65</text>
<text x="824.3" y="418" font-family="Liberation Sans" font-size="8" font-weight="bold" fill="#222" text-anchor="middle" transform="rotate(-90 824.3 418)" >7,10</text>
<text x="840.5" y="159" font-family="Liberation Sans" font-size="8" font-weight="bold" fill="#222" text-anchor="middle" transform="rotate(-90 840.5 159)">27<tspan font-size="4.8" dy="-3">5</tspan></text>
<text x="840.5" y="218" font-family="Liberation Sans" font-size="8" font-weight="bold" fill="#222" text-anchor="middle" transform="rotate(-90 840.5 218)" >2,65</text>
<text x="840.5" y="315" font-family="Liberation Sans" font-size="8" font-weight="bold" fill="#222" text-anchor="middle" transform="rotate(-90 840.5 315)" >1,95</text>
<text x="840.5" y="463" font-family="Liberation Sans" font-size="8" font-weight="bold" fill="#222" text-anchor="middle" transform="rotate(-90 840.5 463)" >4,60</text>
<text x="840.5" y="588" font-family="Liberation Sans" font-size="8" font-weight="bold" fill="#222" text-anchor="middle" transform="rotate(-90 840.5 588)">27<tspan font-size="4.8" dy="-3">5</tspan></text>
<text x="857" y="359" font-family="Liberation Sans" font-size="8" font-weight="bold" fill="#222" text-anchor="middle" transform="rotate(-90 857 359)" >9,75</text>
<rect x="223.4" y="114" width="47.900000000000006" height="17.599999999999994" fill="none" stroke="#444" stroke-width="0.8" />
<text x="247.35000000000002" y="121.216" font-family="Liberation Sans" font-size="8.0" font-weight="bold" fill="#1a1a1a" text-anchor="middle" textLength="43.6" lengthAdjust="spacingAndGlyphs">CTN = +0,34</text>
<text x="247.35000000000002" y="129.576" font-family="Liberation Sans" font-size="8.0" font-weight="bold" fill="#1a1a1a" text-anchor="middle" textLength="43.6" lengthAdjust="spacingAndGlyphs">CTA = -0,10</text>
<rect x="578.3" y="114" width="47.30000000000007" height="17.599999999999994" fill="none" stroke="#444" stroke-width="0.8" />
<text x="601.95" y="121.216" font-family="Liberation Sans" font-size="8.0" font-weight="bold" fill="#1a1a1a" text-anchor="middle" textLength="43.0" lengthAdjust="spacingAndGlyphs">CTN = -0,50</text>
<text x="601.95" y="129.576" font-family="Liberation Sans" font-size="8.0" font-weight="bold" fill="#1a1a1a" text-anchor="middle" textLength="43.0" lengthAdjust="spacingAndGlyphs">CTA = -0,50</text>
<rect x="661.9" y="121.5" width="47.200000000000045" height="17.30000000000001" fill="none" stroke="#444" stroke-width="0.8" />
<text x="685.5" y="128.59300000000002" font-family="Liberation Sans" font-size="8.0" font-weight="bold" fill="#1a1a1a" text-anchor="middle" textLength="43.0" lengthAdjust="spacingAndGlyphs">CTN = -0,62</text>
<text x="685.5" y="136.81050000000002" font-family="Liberation Sans" font-size="8.0" font-weight="bold" fill="#1a1a1a" text-anchor="middle" textLength="43.0" lengthAdjust="spacingAndGlyphs">CTA = -0,56</text>
<rect x="788.8" y="126" width="47.90000000000009" height="17" fill="none" stroke="#444" stroke-width="0.8" />
<text x="812.75" y="132.97" font-family="Liberation Sans" font-size="8.0" font-weight="bold" fill="#1a1a1a" text-anchor="middle" textLength="43.6" lengthAdjust="spacingAndGlyphs">CTN = -0,76</text>
<text x="812.75" y="141.045" font-family="Liberation Sans" font-size="8.0" font-weight="bold" fill="#1a1a1a" text-anchor="middle" textLength="43.6" lengthAdjust="spacingAndGlyphs">CTA = -0,70</text>
<rect x="802.6" y="202.2" width="18.399999999999977" height="47.60000000000002" fill="none" stroke="#444" stroke-width="0.8" />
<text x="810.144" y="226.0" font-family="Liberation Sans" font-size="8.0" font-weight="bold" fill="#1a1a1a" text-anchor="middle" transform="rotate(-90 810.144 226.0)" textLength="43.3" lengthAdjust="spacingAndGlyphs">CTN = -0,78</text>
<text x="818.884" y="226.0" font-family="Liberation Sans" font-size="8.0" font-weight="bold" fill="#1a1a1a" text-anchor="middle" transform="rotate(-90 818.884 226.0)" textLength="43.3" lengthAdjust="spacingAndGlyphs">CTA = -0,70</text>
<rect x="215.8" y="323" width="17.799999999999983" height="48.39999999999998" fill="none" stroke="#444" stroke-width="0.8" />
<text x="223.098" y="347.2" font-family="Liberation Sans" font-size="8.0" font-weight="bold" fill="#1a1a1a" text-anchor="middle" transform="rotate(-90 223.098 347.2)" textLength="44.0" lengthAdjust="spacingAndGlyphs">CTN = +0,28</text>
<text x="231.553" y="347.2" font-family="Liberation Sans" font-size="8.0" font-weight="bold" fill="#1a1a1a" text-anchor="middle" transform="rotate(-90 231.553 347.2)" textLength="44.0" lengthAdjust="spacingAndGlyphs">CTA = -0,10</text>
<rect x="695.6" y="317" width="45.799999999999955" height="17.899999999999977" fill="none" stroke="#444" stroke-width="0.8" />
<text x="718.5" y="324.339" font-family="Liberation Sans" font-size="8.0" font-weight="bold" fill="#1a1a1a" text-anchor="middle" textLength="41.7" lengthAdjust="spacingAndGlyphs">CTN = -0,70</text>
<text x="718.5" y="332.8415" font-family="Liberation Sans" font-size="8.0" font-weight="bold" fill="#1a1a1a" text-anchor="middle" textLength="41.7" lengthAdjust="spacingAndGlyphs">CTA = 0,00</text>
<rect x="194.3" y="583.6" width="47.79999999999998" height="18.600000000000023" fill="none" stroke="#444" stroke-width="0.8" />
<text x="218.2" y="591.226" font-family="Liberation Sans" font-size="8.0" font-weight="bold" fill="#1a1a1a" text-anchor="middle" textLength="43.5" lengthAdjust="spacingAndGlyphs">CTN = +0,05</text>
<text x="218.2" y="600.061" font-family="Liberation Sans" font-size="8.0" font-weight="bold" fill="#1a1a1a" text-anchor="middle" textLength="43.5" lengthAdjust="spacingAndGlyphs">CTA = -0,10</text>
<rect x="366" y="583.6" width="45.80000000000001" height="18.600000000000023" fill="none" stroke="#444" stroke-width="0.8" />
<text x="388.9" y="591.226" font-family="Liberation Sans" font-size="8.0" font-weight="bold" fill="#1a1a1a" text-anchor="middle" textLength="41.7" lengthAdjust="spacingAndGlyphs">CTN = -0,23</text>
<text x="388.9" y="600.061" font-family="Liberation Sans" font-size="8.0" font-weight="bold" fill="#1a1a1a" text-anchor="middle" textLength="41.7" lengthAdjust="spacingAndGlyphs">CTA = -0,25</text>
<rect x="415.8" y="583.6" width="45.80000000000001" height="18.600000000000023" fill="none" stroke="#444" stroke-width="0.8" />
<text x="438.70000000000005" y="591.226" font-family="Liberation Sans" font-size="8.0" font-weight="bold" fill="#1a1a1a" text-anchor="middle" textLength="41.7" lengthAdjust="spacingAndGlyphs">CTN = -0,37</text>
<text x="438.70000000000005" y="600.061" font-family="Liberation Sans" font-size="8.0" font-weight="bold" fill="#1a1a1a" text-anchor="middle" textLength="41.7" lengthAdjust="spacingAndGlyphs">CTA = -0,40</text>
<rect x="468.5" y="583.6" width="47.5" height="18.600000000000023" fill="none" stroke="#444" stroke-width="0.8" />
<text x="492.25" y="591.226" font-family="Liberation Sans" font-size="8.0" font-weight="bold" fill="#1a1a1a" text-anchor="middle" textLength="43.2" lengthAdjust="spacingAndGlyphs">CTN = -0,46</text>
<text x="492.25" y="600.061" font-family="Liberation Sans" font-size="8.0" font-weight="bold" fill="#1a1a1a" text-anchor="middle" textLength="43.2" lengthAdjust="spacingAndGlyphs">CTA = -0,55</text>
<rect x="646" y="583.6" width="48.10000000000002" height="18.600000000000023" fill="none" stroke="#444" stroke-width="0.8" />
<text x="670.05" y="591.226" font-family="Liberation Sans" font-size="8.0" font-weight="bold" fill="#1a1a1a" text-anchor="middle" textLength="43.8" lengthAdjust="spacingAndGlyphs">CTN = -0,92</text>
<text x="670.05" y="600.061" font-family="Liberation Sans" font-size="8.0" font-weight="bold" fill="#1a1a1a" text-anchor="middle" textLength="43.8" lengthAdjust="spacingAndGlyphs">CTA = -0,70</text>
<rect x="736.5" y="583.6" width="47.5" height="18.600000000000023" fill="none" stroke="#444" stroke-width="0.8" />
<text x="760.25" y="591.226" font-family="Liberation Sans" font-size="8.0" font-weight="bold" fill="#1a1a1a" text-anchor="middle" textLength="43.2" lengthAdjust="spacingAndGlyphs">CTN = -1,00</text>
<text x="760.25" y="600.061" font-family="Liberation Sans" font-size="8.0" font-weight="bold" fill="#1a1a1a" text-anchor="middle" textLength="43.2" lengthAdjust="spacingAndGlyphs">CTA = -0,70</text>
<rect x="418.7" y="319.3" width="40.1" height="18.3" fill="#fff" stroke="#333" stroke-width="0.8" />
<text x="438.7" y="327.6" font-family="Liberation Sans" font-size="8.2" font-weight="bold" fill="#1a1a1a" text-anchor="middle" >±0,00=</text>
<text x="438.7" y="336.2" font-family="Liberation Sans" font-size="8.2" font-weight="bold" fill="#1a1a1a" text-anchor="middle" >511,479</text>
<rect x="700" y="215.4" width="20.9" height="8.4" fill="#fff" stroke="#777" stroke-width="0.8" />
<text x="710.4" y="222.5" font-family="Liberation Sans" font-size="7.5" font-weight="bold" fill="#222" text-anchor="middle" >±0,00</text>
<rect x="649.6" y="246" width="19.6" height="8.4" fill="#fff" stroke="#777" stroke-width="0.8" />
<text x="659.4" y="253.1" font-family="Liberation Sans" font-size="7.5" font-weight="bold" fill="#222" text-anchor="middle" >±0,00</text>
<text x="302.3" y="229.5" font-family="Liberation Serif" font-size="8.0" font-weight="bold" fill="#222" text-anchor="middle" >CAMERA</text>
<text x="302.3" y="238.2" font-family="Liberation Sans" font-size="6" font-weight="normal" fill="#22dd22" text-anchor="middle" >parchet</text>
<text x="302.3" y="245.0" font-family="Liberation Serif" font-size="6.8" fill="#333" text-anchor="middle">A: 13,05 m<tspan font-size="4.2" dy="-2.8">2</tspan></text>
<text x="531.8" y="229.5" font-family="Liberation Serif" font-size="8.0" font-weight="bold" fill="#222" text-anchor="middle" >BAIE</text>
<text x="531.8" y="238.2" font-family="Liberation Sans" font-size="6" font-weight="normal" fill="#22dd22" text-anchor="middle" >gresie</text>
<text x="531.8" y="245.0" font-family="Liberation Serif" font-size="6.8" fill="#333" text-anchor="middle">A: 5,12 m<tspan font-size="4.2" dy="-2.8">2</tspan></text>
<text x="518.3" y="310.8" font-family="Liberation Serif" font-size="8.0" font-weight="bold" fill="#222" text-anchor="middle" >HOL</text>
<text x="518.3" y="319.5" font-family="Liberation Sans" font-size="6" font-weight="normal" fill="#22dd22" text-anchor="middle" >gresie</text>
<text x="518.3" y="326.3" font-family="Liberation Serif" font-size="6.8" fill="#333" text-anchor="middle">A: 10,91 m<tspan font-size="4.2" dy="-2.8">2</tspan></text>
<text x="658.5" y="226.2" font-family="Liberation Serif" font-size="8.0" font-weight="bold" fill="#222" text-anchor="middle" >TERASA</text>
<text x="658.5" y="234.89999999999998" font-family="Liberation Sans" font-size="6" font-weight="normal" fill="#22dd22" text-anchor="middle" >gresie</text>
<text x="658.5" y="241.7" font-family="Liberation Serif" font-size="6.8" fill="#333" text-anchor="middle">A: 7,34 m<tspan font-size="4.2" dy="-2.8">2</tspan></text>
<text x="687.5" y="388.2" font-family="Liberation Serif" font-size="8.0" font-weight="bold" fill="#222" text-anchor="middle" >CAMARA</text>
<text x="687.5" y="396.9" font-family="Liberation Sans" font-size="6" font-weight="normal" fill="#22dd22" text-anchor="middle" >gresie</text>
<text x="687.5" y="403.7" font-family="Liberation Serif" font-size="6.8" fill="#333" text-anchor="middle">A: 1,20 m<tspan font-size="4.2" dy="-2.8">2</tspan></text>
<text x="377.6" y="468.5" font-family="Liberation Serif" font-size="8.0" font-weight="bold" fill="#222" text-anchor="middle" >LIVING</text>
<text x="377.6" y="477.2" font-family="Liberation Sans" font-size="6" font-weight="normal" fill="#22dd22" text-anchor="middle" >parchet</text>
<text x="377.6" y="484.0" font-family="Liberation Serif" font-size="6.8" fill="#333" text-anchor="middle">A: 27,16 m<tspan font-size="4.2" dy="-2.8">2</tspan></text>
<text x="619" y="454.3" font-family="Liberation Serif" font-size="8.0" font-weight="bold" fill="#222" text-anchor="middle" >BUCATARIE</text>
<text x="619" y="463.0" font-family="Liberation Sans" font-size="6" font-weight="normal" fill="#22dd22" text-anchor="middle" >parchet</text>
<text x="619" y="469.8" font-family="Liberation Serif" font-size="6.8" fill="#333" text-anchor="middle">A: 15,99 m<tspan font-size="4.2" dy="-2.8">2</tspan></text>
<text x="745.9" y="633.2" font-family="Liberation Sans" font-size="7.6" font-weight="bold" fill="#333" text-anchor="start" >Suprafata construita parter: 98,99 mp</text>
<text x="745.9" y="642.0" font-family="Liberation Sans" font-size="7.6" font-weight="bold" fill="#333" text-anchor="start" >Suprafata terasa acoperita parter: 9,78 mp</text>
<text x="745.9" y="650.8000000000001" font-family="Liberation Sans" font-size="7.6" font-weight="bold" fill="#333" text-anchor="start" >Suprafata construita calcul CUT: 108,77 mp</text>
<text x="745.9" y="659.6" font-family="Liberation Sans" font-size="7.6" font-weight="bold" fill="#333" text-anchor="start" >Suprafata utila parter: 73,43 mp</text>
<circle cx="783" cy="71.8" r="22.7" fill="none" stroke="#333" stroke-width="0.9"/>
<line x1="758.75" y1="57.9" x2="807.4" y2="85.7" stroke="#333" stroke-width="0.8" />
<line x1="769.2" y1="95.4" x2="797" y2="47.5" stroke="#333" stroke-width="0.8" />
<polygon points="794.9,51.7 763.6,82.2 782.4,94" fill="#0a0a0a"/>
<path d="M798.3,34.3 L805.3,20.4 L808,39.2 L816.4,25.3" fill="none" stroke="#111" stroke-width="2.2" stroke-linejoin="round" stroke-linecap="round"/>
<line x1="428.2" y1="140.2" x2="468" y2="140.2" stroke="#f2a152" stroke-width="0.9" />
<line x1="428.2" y1="146.8" x2="468" y2="146.8" stroke="#f2a152" stroke-width="0.9" />
<line x1="428.2" y1="148.6" x2="468" y2="148.6" stroke="#f2a152" stroke-width="0.9" />
<line x1="428.2" y1="157.8" x2="468" y2="157.8" stroke="#f2a152" stroke-width="0.9" />
<line x1="546.7" y1="140.2" x2="577.8" y2="140.2" stroke="#f2a152" stroke-width="0.9" />
<line x1="546.7" y1="146.8" x2="577.8" y2="146.8" stroke="#f2a152" stroke-width="0.9" />
<line x1="546.7" y1="148.6" x2="577.8" y2="148.6" stroke="#f2a152" stroke-width="0.9" />
<line x1="546.7" y1="157.8" x2="577.8" y2="157.8" stroke="#f2a152" stroke-width="0.9" />
<line x1="239.25" y1="216" x2="239.25" y2="297.2" stroke="#f2a152" stroke-width="0.9" />
<line x1="245.5" y1="216" x2="245.5" y2="297.2" stroke="#f2a152" stroke-width="0.9" />
<line x1="248" y1="216" x2="248" y2="297.2" stroke="#f2a152" stroke-width="0.9" />
<line x1="257.6" y1="216" x2="257.6" y2="297.2" stroke="#f2a152" stroke-width="0.9" />
<line x1="239.25" y1="402.6" x2="239.25" y2="523.4" stroke="#f2a152" stroke-width="0.9" />
<line x1="245.5" y1="402.6" x2="245.5" y2="523.4" stroke="#f2a152" stroke-width="0.9" />
<line x1="248" y1="402.6" x2="248" y2="523.4" stroke="#f2a152" stroke-width="0.9" />
<line x1="257.6" y1="402.6" x2="257.6" y2="523.4" stroke="#f2a152" stroke-width="0.9" />
<line x1="293.4" y1="559.4" x2="328.6" y2="559.4" stroke="#f2a152" stroke-width="0.9" />
<line x1="293.4" y1="568.6" x2="328.6" y2="568.6" stroke="#f2a152" stroke-width="0.9" />
<line x1="293.4" y1="571.4" x2="328.6" y2="571.4" stroke="#f2a152" stroke-width="0.9" />
<line x1="293.4" y1="578" x2="328.6" y2="578" stroke="#f2a152" stroke-width="0.9" />
<line x1="340.4" y1="559.4" x2="375.8" y2="559.4" stroke="#f2a152" stroke-width="0.9" />
<line x1="340.4" y1="568.6" x2="375.8" y2="568.6" stroke="#f2a152" stroke-width="0.9" />
<line x1="340.4" y1="571.4" x2="375.8" y2="571.4" stroke="#f2a152" stroke-width="0.9" />
<line x1="340.4" y1="578" x2="375.8" y2="578" stroke="#f2a152" stroke-width="0.9" />
<line x1="720" y1="380" x2="720" y2="411.2" stroke="#f2a152" stroke-width="0.9" />
<line x1="729.3" y1="380" x2="729.3" y2="411.2" stroke="#f2a152" stroke-width="0.9" />
<line x1="731.7" y1="380" x2="731.7" y2="411.2" stroke="#f2a152" stroke-width="0.9" />
<line x1="737.3" y1="380" x2="737.3" y2="411.2" stroke="#f2a152" stroke-width="0.9" />
<line x1="720" y1="422.6" x2="720" y2="503" stroke="#f2a152" stroke-width="0.9" />
<line x1="729.3" y1="422.6" x2="729.3" y2="503" stroke="#f2a152" stroke-width="0.9" />
<line x1="731.7" y1="422.6" x2="731.7" y2="503" stroke="#f2a152" stroke-width="0.9" />
<line x1="737.3" y1="422.6" x2="737.3" y2="503" stroke="#f2a152" stroke-width="0.9" />
<line x1="675" y1="286.25" x2="675" y2="317" stroke="#f2a152" stroke-width="0.9" />
<line x1="683.75" y1="286.25" x2="683.75" y2="317" stroke="#f2a152" stroke-width="0.9" />
<line x1="686.25" y1="286.25" x2="686.25" y2="317" stroke="#f2a152" stroke-width="0.9" />
<line x1="692.7" y1="286.25" x2="692.7" y2="317" stroke="#f2a152" stroke-width="0.9" />
<line x1="250.5" y1="442.8" x2="290.3" y2="442.8" stroke="#f2a152" stroke-width="2.0" />
<path d="M290.3,442.8 A39.3,39.3 0 0 1 251,482.1" fill="none" stroke="#f2a152" stroke-width="0.9"/>
<line x1="404.5" y1="159.8" x2="492" y2="159.8" stroke="#f2a152" stroke-width="2.2" stroke-dasharray="5 2.5"/>
<line x1="405.5" y1="159.8" x2="405.5" y2="236" stroke="#f2a152" stroke-width="2.2" stroke-dasharray="5 2.5"/>
<line x1="490.5" y1="159.8" x2="490.5" y2="290" stroke="#f2a152" stroke-width="2.0" stroke-dasharray="5 2.5"/>
<line x1="405.5" y1="236" x2="405.5" y2="303" stroke="#f2a152" stroke-width="2.2" />
<path d="M424,236 L424,179 L471,179 L471,290" fill="none" stroke="#f2a152" stroke-width="1.0" stroke-dasharray="5 2.5"/>
<line x1="406" y1="203.3" x2="490" y2="203.3" stroke="#f2a152" stroke-width="1.6" stroke-dasharray="5 2.5"/>
<line x1="406" y1="216.7" x2="490" y2="216.7" stroke="#f2a152" stroke-width="1.6" stroke-dasharray="5 2.5"/>
<line x1="406" y1="228.9" x2="490" y2="228.9" stroke="#f2a152" stroke-width="1.6" stroke-dasharray="5 2.5"/>
<line x1="406" y1="241.1" x2="490" y2="241.1" stroke="#f2a152" stroke-width="1.6" stroke-dasharray="5 2.5"/>
<line x1="406" y1="253.3" x2="490" y2="253.3" stroke="#f2a152" stroke-width="1.6" stroke-dasharray="5 2.5"/>
<line x1="406" y1="265.6" x2="490" y2="265.6" stroke="#f2a152" stroke-width="1.6" stroke-dasharray="5 2.5"/>
<line x1="406" y1="277.8" x2="490" y2="277.8" stroke="#f2a152" stroke-width="1.6" stroke-dasharray="5 2.5"/>
<path d="M405.5,236 L445.6,256.7 L445.6,303.3 L405.5,303.3" fill="none" stroke="#f2a152" stroke-width="1.1"/>
<line x1="405.5" y1="256.7" x2="445.6" y2="256.7" stroke="#f2a152" stroke-width="1.0" />
<line x1="405.5" y1="265.6" x2="445.6" y2="265.6" stroke="#f2a152" stroke-width="1.0" />
<line x1="405.5" y1="274.4" x2="445.6" y2="274.4" stroke="#f2a152" stroke-width="1.0" />
<line x1="405.5" y1="283.3" x2="445.6" y2="283.3" stroke="#f2a152" stroke-width="1.0" />
<line x1="405.5" y1="292.2" x2="445.6" y2="292.2" stroke="#f2a152" stroke-width="1.0" />
<line x1="424.4" y1="245" x2="424.4" y2="303.3" stroke="#f2a152" stroke-width="0.8" />
<line x1="405.5" y1="256.7" x2="445.6" y2="236" stroke="#f2a152" stroke-width="0.8" />
<line x1="405.5" y1="246" x2="425" y2="236" stroke="#f2a152" stroke-width="0.8" />
<path d="M452,220 L458,225 L452,230" fill="none" stroke="#f2a152" stroke-width="1.6" stroke-dasharray="5 2.5"/>
<path d="M452,235 L458,240 L452,245" fill="none" stroke="#f2a152" stroke-width="1.6" stroke-dasharray="5 2.5"/>
<path d="M452,250 L458,255 L452,260" fill="none" stroke="#f2a152" stroke-width="1.6" stroke-dasharray="5 2.5"/>
<path d="M452,265 L458,270 L452,275" fill="none" stroke="#f2a152" stroke-width="1.6" stroke-dasharray="5 2.5"/>
<path d="M452,280 L458,285 L452,290" fill="none" stroke="#f2a152" stroke-width="1.6" stroke-dasharray="5 2.5"/>
<circle cx="424.4" cy="303.3" r="3.4" fill="#888"/>
<rect x="441.7" y="197.8" width="12.2" height="6.6" fill="none" stroke="#f2a152" stroke-width="1.0" />
<line x1="445.6" y1="290" x2="490" y2="290" stroke="#f2a152" stroke-width="1.6" stroke-dasharray="5 2.5"/>
<text x="418.5" y="272" font-family="Liberation Sans" font-size="6.8" font-weight="bold" fill="#222" text-anchor="middle" transform="rotate(-90 418.5 272)" >17 tr. 28 x</text>
<text x="426.5" y="272" font-family="Liberation Sans" font-size="6.8" font-weight="bold" fill="#222" text-anchor="middle" transform="rotate(-90 426.5 272)" >17,3529</text>
<text x="447.5" y="171" font-family="Liberation Sans" font-size="6.4" font-weight="normal" fill="#555" text-anchor="middle" >p=0,60</text>
<text x="562.5" y="171" font-family="Liberation Sans" font-size="6.4" font-weight="normal" fill="#555" text-anchor="middle" >p=1,15</text>
<line x1="447.9" y1="110" x2="447.9" y2="158" stroke="#888" stroke-width="0.8" />
<text x="445.5" y="125" font-family="Liberation Sans" font-size="7" font-weight="normal" fill="#555" text-anchor="middle" transform="rotate(-90 445.5 125)" >0,90</text>
<text x="453.5" y="125" font-family="Liberation Sans" font-size="7" font-weight="normal" fill="#555" text-anchor="middle" transform="rotate(-90 453.5 125)" >0,75</text>
<line x1="563" y1="110" x2="563" y2="158" stroke="#888" stroke-width="0.8" />
<text x="560.5" y="125" font-family="Liberation Sans" font-size="7" font-weight="normal" fill="#555" text-anchor="middle" transform="rotate(-90 560.5 125)" >0,70</text>
<text x="568.5" y="125" font-family="Liberation Sans" font-size="7" font-weight="normal" fill="#555" text-anchor="middle" transform="rotate(-90 568.5 125)" >1,20</text>
<line x1="215" y1="256.9" x2="261.5" y2="256.9" stroke="#888" stroke-width="0.8" />
<text x="224" y="254.5" font-family="Liberation Sans" font-size="6" font-weight="normal" fill="#555" text-anchor="middle" >1,80</text>
<text x="224" y="263" font-family="Liberation Sans" font-size="6" font-weight="normal" fill="#555" text-anchor="middle" >1,45</text>
<text x="267.5" y="259" font-family="Liberation Sans" font-size="6" font-weight="normal" fill="#555" text-anchor="middle" transform="rotate(-90 267.5 259)" >p=0,90</text>
<line x1="205.4" y1="463.2" x2="261.4" y2="463.2" stroke="#888" stroke-width="0.8" />
<text x="224" y="460.5" font-family="Liberation Sans" font-size="6" font-weight="normal" fill="#555" text-anchor="middle" >2,70</text>
<text x="224" y="469.5" font-family="Liberation Sans" font-size="6" font-weight="normal" fill="#555" text-anchor="middle" >2,35</text>
<text x="267.5" y="463" font-family="Liberation Sans" font-size="6" font-weight="normal" fill="#555" text-anchor="middle" transform="rotate(-90 267.5 463)" >p=0,00</text>
<line x1="311.1" y1="555.6" x2="311.1" y2="611.7" stroke="#888" stroke-width="0.8" />
<text x="311.1" y="553.9" font-family="Liberation Sans" font-size="6.4" font-weight="normal" fill="#555" text-anchor="middle" >p=0,35</text>
<text x="309.6" y="594.4" font-family="Liberation Sans" font-size="6.8" font-weight="normal" fill="#666" text-anchor="middle" transform="rotate(-90 309.6 594.4)" >0,80</text>
<text x="317.6" y="594.4" font-family="Liberation Sans" font-size="6.8" font-weight="normal" fill="#666" text-anchor="middle" transform="rotate(-90 317.6 594.4)" >2,00</text>
<line x1="358.1" y1="555.6" x2="358.1" y2="611.7" stroke="#888" stroke-width="0.8" />
<text x="358.1" y="553.9" font-family="Liberation Sans" font-size="6.4" font-weight="normal" fill="#555" text-anchor="middle" >p=0,35</text>
<text x="356.6" y="594.4" font-family="Liberation Sans" font-size="6.8" font-weight="normal" fill="#666" text-anchor="middle" transform="rotate(-90 356.6 594.4)" >0,80</text>
<text x="364.6" y="594.4" font-family="Liberation Sans" font-size="6.8" font-weight="normal" fill="#666" text-anchor="middle" transform="rotate(-90 364.6 594.4)" >2,00</text>
<line x1="712" y1="463.3" x2="770" y2="463.3" stroke="#888" stroke-width="0.8" />
<text x="752" y="460.5" font-family="Liberation Sans" font-size="6" font-weight="normal" fill="#555" text-anchor="middle" >1,80</text>
<text x="752" y="469.5" font-family="Liberation Sans" font-size="6" font-weight="normal" fill="#555" text-anchor="middle" >1,20</text>
<line x1="715" y1="395" x2="770" y2="395" stroke="#888" stroke-width="0.8" />
<text x="752" y="392.5" font-family="Liberation Sans" font-size="6" font-weight="normal" fill="#555" text-anchor="middle" >0,70</text>
<text x="752" y="401.5" font-family="Liberation Sans" font-size="6" font-weight="normal" fill="#555" text-anchor="middle" >1,20</text>
<line x1="695" y1="301" x2="745" y2="301" stroke="#888" stroke-width="0.8" />
<text x="709" y="298.5" font-family="Liberation Sans" font-size="6" font-weight="normal" fill="#555" text-anchor="middle" >0,70</text>
<text x="709" y="307.5" font-family="Liberation Sans" font-size="6" font-weight="normal" fill="#555" text-anchor="middle" >1,20</text>
<text x="668.5" y="302.5" font-family="Liberation Sans" font-size="6.4" font-weight="normal" fill="#555" text-anchor="middle" transform="rotate(-90 668.5 302.5)" >p=1,15</text>
<text x="713" y="400" font-family="Liberation Sans" font-size="6" font-weight="normal" fill="#555" text-anchor="middle" transform="rotate(-90 713 400)" >p=1,15</text>
<line x1="238" y1="211.8" x2="745" y2="211.8" stroke="#333" stroke-width="0.8" />
<line x1="235.8" y1="214.0" x2="240.2" y2="209.60000000000002" stroke="#222" stroke-width="0.8" />
<line x1="238" y1="209.0" x2="238" y2="214.60000000000002" stroke="#222" stroke-width="0.5" />
<line x1="255.60000000000002" y1="214.0" x2="260.0" y2="209.60000000000002" stroke="#222" stroke-width="0.8" />
<line x1="257.8" y1="209.0" x2="257.8" y2="214.60000000000002" stroke="#222" stroke-width="0.5" />
<line x1="389.3" y1="214.0" x2="393.7" y2="209.60000000000002" stroke="#222" stroke-width="0.8" />
<line x1="391.5" y1="209.0" x2="391.5" y2="214.60000000000002" stroke="#222" stroke-width="0.5" />
<line x1="401.1" y1="214.0" x2="405.5" y2="209.60000000000002" stroke="#222" stroke-width="0.8" />
<line x1="403.3" y1="209.0" x2="403.3" y2="214.60000000000002" stroke="#222" stroke-width="0.5" />
<line x1="490.7" y1="214.0" x2="495.09999999999997" y2="209.60000000000002" stroke="#222" stroke-width="0.8" />
<line x1="492.9" y1="209.0" x2="492.9" y2="214.60000000000002" stroke="#222" stroke-width="0.5" />
<line x1="501.8" y1="214.0" x2="506.2" y2="209.60000000000002" stroke="#222" stroke-width="0.8" />
<line x1="504" y1="209.0" x2="504" y2="214.60000000000002" stroke="#222" stroke-width="0.5" />
<line x1="593.8" y1="214.0" x2="598.2" y2="209.60000000000002" stroke="#222" stroke-width="0.8" />
<line x1="596" y1="209.0" x2="596" y2="214.60000000000002" stroke="#222" stroke-width="0.5" />
<line x1="612.1999999999999" y1="214.0" x2="616.6" y2="209.60000000000002" stroke="#222" stroke-width="0.8" />
<line x1="614.4" y1="209.0" x2="614.4" y2="214.60000000000002" stroke="#222" stroke-width="0.5" />
<line x1="650.8" y1="214.0" x2="655.2" y2="209.60000000000002" stroke="#222" stroke-width="0.8" />
<line x1="653" y1="209.0" x2="653" y2="214.60000000000002" stroke="#222" stroke-width="0.5" />
<line x1="742.8" y1="214.0" x2="747.2" y2="209.60000000000002" stroke="#222" stroke-width="0.8" />
<line x1="745" y1="209.0" x2="745" y2="214.60000000000002" stroke="#222" stroke-width="0.5" />
<text x="247.8" y="210" font-family="Liberation Sans" font-size="8" font-weight="bold" fill="#222" text-anchor="middle" >40</text>
<text x="319.6" y="210" font-family="Liberation Sans" font-size="8" font-weight="bold" fill="#222" text-anchor="middle" >3,00</text>
<text x="385.8" y="210" font-family="Liberation Sans" font-size="8" font-weight="bold" fill="#222" text-anchor="middle" >25</text>
<text x="444" y="210" font-family="Liberation Sans" font-size="8" font-weight="bold" fill="#222" text-anchor="middle" >2,00</text>
<text x="486.7" y="210" font-family="Liberation Sans" font-size="8" font-weight="bold" fill="#222" text-anchor="middle" >25</text>
<text x="549.8" y="210" font-family="Liberation Sans" font-size="8" font-weight="bold" fill="#222" text-anchor="middle" >2,05</text>
<text x="604" y="210" font-family="Liberation Sans" font-size="8" font-weight="bold" fill="#222" text-anchor="middle" >40</text>
<text x="652.2" y="210" font-family="Liberation Sans" font-size="8" font-weight="bold" fill="#222" text-anchor="middle" >1,70</text>
<text x="718.3" y="210" font-family="Liberation Sans" font-size="8" font-weight="bold" fill="#222" text-anchor="middle" >1,20</text>
<line x1="626.2" y1="145.5" x2="626.2" y2="259.5" stroke="#333" stroke-width="0.8" />
<line x1="624.0" y1="147.7" x2="628.4000000000001" y2="143.3" stroke="#222" stroke-width="0.8" />
<line x1="623.4000000000001" y1="145.5" x2="629.0" y2="145.5" stroke="#222" stroke-width="0.5" />
<line x1="624.0" y1="261.7" x2="628.4000000000001" y2="257.3" stroke="#222" stroke-width="0.8" />
<line x1="623.4000000000001" y1="259.5" x2="629.0" y2="259.5" stroke="#222" stroke-width="0.5" />
<text x="624.5" y="203" font-family="Liberation Sans" font-size="8" font-weight="bold" fill="#222" text-anchor="middle" transform="rotate(-90 624.5 203)" >2,50</text>
<line x1="329.2" y1="158.4" x2="329.2" y2="541.2" stroke="#333" stroke-width="0.8" />
<text x="327.5" y="255" font-family="Liberation Sans" font-size="8" font-weight="bold" fill="#222" text-anchor="middle" transform="rotate(-90 327.5 255)" >4,35</text>
<text x="327.5" y="465" font-family="Liberation Sans" font-size="8" font-weight="bold" fill="#222" text-anchor="middle" transform="rotate(-90 327.5 465)" >4,35</text>
<line x1="403.3" y1="341.5" x2="740" y2="341.5" stroke="#333" stroke-width="0.8" />
<line x1="401.1" y1="343.7" x2="405.5" y2="339.3" stroke="#222" stroke-width="0.8" />
<line x1="403.3" y1="338.7" x2="403.3" y2="344.3" stroke="#222" stroke-width="0.5" />
<line x1="584.3" y1="343.7" x2="588.7" y2="339.3" stroke="#222" stroke-width="0.8" />
<line x1="586.5" y1="338.7" x2="586.5" y2="344.3" stroke="#222" stroke-width="0.5" />
<line x1="609.6999999999999" y1="343.7" x2="614.1" y2="339.3" stroke="#222" stroke-width="0.8" />
<line x1="611.9" y1="338.7" x2="611.9" y2="344.3" stroke="#222" stroke-width="0.5" />
<line x1="716.5999999999999" y1="343.7" x2="721.0" y2="339.3" stroke="#222" stroke-width="0.8" />
<line x1="718.8" y1="338.7" x2="718.8" y2="344.3" stroke="#222" stroke-width="0.5" />
<line x1="736.0999999999999" y1="343.7" x2="740.5" y2="339.3" stroke="#222" stroke-width="0.8" />
<line x1="738.3" y1="338.7" x2="738.3" y2="344.3" stroke="#222" stroke-width="0.5" />
<text x="499.8" y="339.6" font-family="Liberation Sans" font-size="8" font-weight="bold" fill="#222" text-anchor="middle" >4,30</text>
<text x="590.6" y="339.6" font-family="Liberation Sans" font-size="8" font-weight="bold" fill="#222" text-anchor="middle" >15</text>
<text x="661" y="339.6" font-family="Liberation Sans" font-size="8" font-weight="bold" fill="#222" text-anchor="middle" >2,60</text>
<text x="730.6" y="339.6" font-family="Liberation Sans" font-size="8" font-weight="bold" fill="#222" text-anchor="middle" >40</text>
<text x="607" y="338" font-family="Liberation Sans" font-size="8" font-weight="bold" fill="#222" text-anchor="middle" transform="rotate(-90 607 338)" >60</text>
<line x1="586.5" y1="341.5" x2="586.5" y2="357.5" stroke="#333" stroke-width="0.7" />
<text x="584.8" y="346" font-family="Liberation Sans" font-size="8" font-weight="bold" fill="#222" text-anchor="middle" transform="rotate(-90 584.8 346)" >85</text>
<line x1="258" y1="382.8" x2="544" y2="382.8" stroke="#333" stroke-width="0.8" />
<line x1="255.8" y1="385.0" x2="260.2" y2="380.6" stroke="#222" stroke-width="0.8" />
<line x1="258" y1="380.0" x2="258" y2="385.6" stroke="#222" stroke-width="0.5" />
<line x1="401.1" y1="385.0" x2="405.5" y2="380.6" stroke="#222" stroke-width="0.8" />
<line x1="403.3" y1="380.0" x2="403.3" y2="385.6" stroke="#222" stroke-width="0.5" />
<line x1="530.6999999999999" y1="385.0" x2="535.1" y2="380.6" stroke="#222" stroke-width="0.8" />
<line x1="532.9" y1="380.0" x2="532.9" y2="385.6" stroke="#222" stroke-width="0.5" />
<line x1="537.9" y1="385.0" x2="542.3000000000001" y2="380.6" stroke="#222" stroke-width="0.8" />
<line x1="540.1" y1="380.0" x2="540.1" y2="385.6" stroke="#222" stroke-width="0.5" />
<line x1="541.8" y1="385.0" x2="546.2" y2="380.6" stroke="#222" stroke-width="0.8" />
<line x1="544" y1="380.0" x2="544" y2="385.6" stroke="#222" stroke-width="0.5" />
<text x="329.5" y="381.1" font-family="Liberation Sans" font-size="8" font-weight="bold" fill="#222" text-anchor="middle" >3,25</text>
<text x="463.8" y="381.1" font-family="Liberation Sans" font-size="8" font-weight="bold" fill="#222" text-anchor="middle" >2,90</text>
<text x="527.4" y="381.1" font-family="Liberation Sans" font-size="8" font-weight="bold" fill="#222" text-anchor="middle" >15</text>
<text x="550.3" y="381.1" font-family="Liberation Sans" font-size="8" font-weight="bold" fill="#222" text-anchor="middle" >10</text>
<line x1="584" y1="378.5" x2="738" y2="378.5" stroke="#333" stroke-width="0.8" />
<line x1="581.8" y1="380.7" x2="586.2" y2="376.3" stroke="#222" stroke-width="0.8" />
<line x1="584" y1="375.7" x2="584" y2="381.3" stroke="#222" stroke-width="0.5" />
<line x1="609.6999999999999" y1="380.7" x2="614.1" y2="376.3" stroke="#222" stroke-width="0.8" />
<line x1="611.9" y1="375.7" x2="611.9" y2="381.3" stroke="#222" stroke-width="0.5" />
<line x1="647.0" y1="380.7" x2="651.4000000000001" y2="376.3" stroke="#222" stroke-width="0.8" />
<line x1="649.2" y1="375.7" x2="649.2" y2="381.3" stroke="#222" stroke-width="0.5" />
<line x1="660.8" y1="380.7" x2="665.2" y2="376.3" stroke="#222" stroke-width="0.8" />
<line x1="663" y1="375.7" x2="663" y2="381.3" stroke="#222" stroke-width="0.5" />
<line x1="665.4" y1="380.7" x2="669.8000000000001" y2="376.3" stroke="#222" stroke-width="0.8" />
<line x1="667.6" y1="375.7" x2="667.6" y2="381.3" stroke="#222" stroke-width="0.5" />
<line x1="735.3" y1="380.7" x2="739.7" y2="376.3" stroke="#222" stroke-width="0.8" />
<line x1="737.5" y1="375.7" x2="737.5" y2="381.3" stroke="#222" stroke-width="0.5" />
<text x="620.4" y="376.8" font-family="Liberation Sans" font-size="8" font-weight="bold" fill="#222" text-anchor="middle" >1,75</text>
<text x="658.5" y="376.8" font-family="Liberation Sans" font-size="8" font-weight="bold" fill="#222" text-anchor="middle" >10</text>
<text x="683.1" y="376.8" font-family="Liberation Sans" font-size="8" font-weight="bold" fill="#222" text-anchor="middle" >1,15</text>
<text x="729" y="376.8" font-family="Liberation Sans" font-size="8" font-weight="bold" fill="#222" text-anchor="middle" >40</text>
<line x1="611.9" y1="326.4" x2="611.9" y2="396" stroke="#333" stroke-width="0.8" />
<line x1="609.6999999999999" y1="328.59999999999997" x2="614.1" y2="324.2" stroke="#222" stroke-width="0.8" />
<line x1="609.1" y1="326.4" x2="614.6999999999999" y2="326.4" stroke="#222" stroke-width="0.5" />
<line x1="609.6999999999999" y1="343.7" x2="614.1" y2="339.3" stroke="#222" stroke-width="0.8" />
<line x1="609.1" y1="341.5" x2="614.6999999999999" y2="341.5" stroke="#222" stroke-width="0.5" />
<line x1="609.6999999999999" y1="367.59999999999997" x2="614.1" y2="363.2" stroke="#222" stroke-width="0.8" />
<line x1="609.1" y1="365.4" x2="614.6999999999999" y2="365.4" stroke="#222" stroke-width="0.5" />
<line x1="609.6999999999999" y1="380.7" x2="614.1" y2="376.3" stroke="#222" stroke-width="0.8" />
<line x1="609.1" y1="378.5" x2="614.6999999999999" y2="378.5" stroke="#222" stroke-width="0.5" />
<line x1="609.6999999999999" y1="398.2" x2="614.1" y2="393.8" stroke="#222" stroke-width="0.8" />
<line x1="609.1" y1="396" x2="614.6999999999999" y2="396" stroke="#222" stroke-width="0.5" />
<text x="607.5" y="370" font-family="Liberation Sans" font-size="8" font-weight="bold" fill="#222" text-anchor="middle" transform="rotate(-90 607.5 370)" >25</text>
<text x="607.5" y="384" font-family="Liberation Sans" font-size="8" font-weight="bold" fill="#222" text-anchor="middle" transform="rotate(-90 607.5 384)" >70</text>
<text x="643.5" y="370" font-family="Liberation Sans" font-size="8" font-weight="bold" fill="#222" text-anchor="middle" transform="rotate(-90 643.5 370)" >25</text>
<text x="327.5" y="370" font-family="Liberation Sans" font-size="8" font-weight="bold" fill="#222" text-anchor="middle" transform="rotate(-90 327.5 370)" >25</text>
<line x1="288.8" y1="365.4" x2="288.8" y2="403.2" stroke="#333" stroke-width="0.8" />
<line x1="286.6" y1="405.4" x2="291.0" y2="401.0" stroke="#222" stroke-width="0.8" />
<line x1="286.0" y1="403.2" x2="291.6" y2="403.2" stroke="#222" stroke-width="0.5" />
<text x="287" y="383" font-family="Liberation Sans" font-size="8" font-weight="bold" fill="#222" text-anchor="middle" transform="rotate(-90 287 383)" >85</text>
<line x1="417" y1="348" x2="417" y2="365.4" stroke="#333" stroke-width="0.8" />
<line x1="414.8" y1="350.2" x2="419.2" y2="345.8" stroke="#222" stroke-width="0.8" />
<line x1="414.2" y1="348" x2="419.8" y2="348" stroke="#222" stroke-width="0.5" />
<line x1="414.8" y1="367.59999999999997" x2="419.2" y2="363.2" stroke="#222" stroke-width="0.8" />
<line x1="414.2" y1="365.4" x2="419.8" y2="365.4" stroke="#222" stroke-width="0.5" />
<text x="415.3" y="357" font-family="Liberation Sans" font-size="8" font-weight="bold" fill="#222" text-anchor="middle" transform="rotate(-90 415.3 357)" >35</text>
<line x1="508" y1="357.5" x2="508" y2="559.6" stroke="#333" stroke-width="0.8" />
<line x1="505.8" y1="359.7" x2="510.2" y2="355.3" stroke="#222" stroke-width="0.8" />
<line x1="505.2" y1="357.5" x2="510.8" y2="357.5" stroke="#222" stroke-width="0.5" />
<text x="506.3" y="458" font-family="Liberation Sans" font-size="8" font-weight="bold" fill="#222" text-anchor="middle" transform="rotate(-90 506.3 458)" >4,50</text>
<line x1="238.9" y1="541.2" x2="719.4" y2="541.2" stroke="#333" stroke-width="0.8" />
<line x1="236.70000000000002" y1="543.4000000000001" x2="241.1" y2="539.0" stroke="#222" stroke-width="0.8" />
<line x1="238.9" y1="538.4000000000001" x2="238.9" y2="544.0" stroke="#222" stroke-width="0.5" />
<line x1="255.5" y1="543.4000000000001" x2="259.9" y2="539.0" stroke="#222" stroke-width="0.8" />
<line x1="257.7" y1="538.4000000000001" x2="257.7" y2="544.0" stroke="#222" stroke-width="0.5" />
<line x1="717.1999999999999" y1="543.4000000000001" x2="721.6" y2="539.0" stroke="#222" stroke-width="0.8" />
<line x1="719.4" y1="538.4000000000001" x2="719.4" y2="544.0" stroke="#222" stroke-width="0.5" />
<text x="248" y="539.5" font-family="Liberation Sans" font-size="8" font-weight="bold" fill="#222" text-anchor="middle" >40</text>
<text x="380" y="539.5" font-family="Liberation Sans" font-size="8" font-weight="bold" fill="#222" text-anchor="middle" >6,15</text>
<text x="630" y="539.5" font-family="Liberation Sans" font-size="8" font-weight="bold" fill="#222" text-anchor="middle" >4,00</text>
<text x="729" y="539.5" font-family="Liberation Sans" font-size="8" font-weight="bold" fill="#222" text-anchor="middle" >40</text>
<text x="527.4" y="539.5" font-family="Liberation Sans" font-size="8" font-weight="bold" fill="#222" text-anchor="middle" >15</text>
<line x1="492.6" y1="292.5" x2="544.6" y2="292.5" stroke="#333" stroke-width="0.8" />
<line x1="490.40000000000003" y1="294.7" x2="494.8" y2="290.3" stroke="#222" stroke-width="0.8" />
<line x1="492.6" y1="289.7" x2="492.6" y2="295.3" stroke="#222" stroke-width="0.5" />
<line x1="542.4" y1="294.7" x2="546.8000000000001" y2="290.3" stroke="#222" stroke-width="0.8" />
<line x1="544.6" y1="289.7" x2="544.6" y2="295.3" stroke="#222" stroke-width="0.5" />
<text x="518" y="290.8" font-family="Liberation Sans" font-size="8" font-weight="bold" fill="#222" text-anchor="middle" >1,15</text>
<text x="513" y="283" font-family="Liberation Sans" font-size="8" font-weight="bold" fill="#222" text-anchor="middle" transform="rotate(-90 513 283)" >15</text>
<line x1="587.2" y1="277.3" x2="587.2" y2="330" stroke="#333" stroke-width="0.8" />
<line x1="585.0" y1="332.2" x2="589.4000000000001" y2="327.8" stroke="#222" stroke-width="0.8" />
<line x1="584.4000000000001" y1="330" x2="590.0" y2="330" stroke="#222" stroke-width="0.5" />
<text x="585.5" y="302" font-family="Liberation Sans" font-size="8" font-weight="bold" fill="#222" text-anchor="middle" transform="rotate(-90 585.5 302)" >1,10</text>
<text x="599.5" y="310.2" font-family="Liberation Sans" font-size="8" font-weight="bold" fill="#222" text-anchor="middle" >15</text>
<line x1="590" y1="313.2" x2="612" y2="313.2" stroke="#333" stroke-width="0.7" />
<line x1="593.8" y1="315.4" x2="598.2" y2="311.0" stroke="#222" stroke-width="0.8" />
<line x1="596" y1="310.4" x2="596" y2="316.0" stroke="#222" stroke-width="0.5" />
<line x1="600.3" y1="315.4" x2="604.7" y2="311.0" stroke="#222" stroke-width="0.8" />
<line x1="602.5" y1="310.4" x2="602.5" y2="316.0" stroke="#222" stroke-width="0.5" />
<line x1="515" y1="252" x2="515" y2="269.6" stroke="#333" stroke-width="0.7" />
<line x1="512.8" y1="254.2" x2="517.2" y2="249.8" stroke="#222" stroke-width="0.8" />
<line x1="512.2" y1="252" x2="517.8" y2="252" stroke="#222" stroke-width="0.5" />
<text x="513.3" y="260" font-family="Liberation Sans" font-size="8" font-weight="bold" fill="#222" text-anchor="middle" transform="rotate(-90 513.3 260)" >38</text>
<line x1="579" y1="248.3" x2="595" y2="248.3" stroke="#333" stroke-width="0.7" />
<line x1="576.8" y1="250.5" x2="581.2" y2="246.10000000000002" stroke="#222" stroke-width="0.8" />
<line x1="579" y1="245.5" x2="579" y2="251.10000000000002" stroke="#222" stroke-width="0.5" />
<text x="588" y="245.5" font-family="Liberation Sans" font-size="8" font-weight="bold" fill="#222" text-anchor="middle" >35</text>
<line x1="688" y1="438.3" x2="719.4" y2="438.3" stroke="#333" stroke-width="0.8" />
<line x1="685.8" y1="440.5" x2="690.2" y2="436.1" stroke="#222" stroke-width="0.8" />
<line x1="688" y1="435.5" x2="688" y2="441.1" stroke="#222" stroke-width="0.5" />
<line x1="717.1999999999999" y1="440.5" x2="721.6" y2="436.1" stroke="#222" stroke-width="0.8" />
<line x1="719.4" y1="435.5" x2="719.4" y2="441.1" stroke="#222" stroke-width="0.5" />
<text x="703" y="436.5" font-family="Liberation Sans" font-size="8" font-weight="bold" fill="#222" text-anchor="middle" >70</text>
<text x="647.5" y="394" font-family="Liberation Sans" font-size="8" font-weight="bold" fill="#222" text-anchor="middle" transform="rotate(-90 647.5 394)" >1,15</text>
<text x="647.5" y="422" font-family="Liberation Sans" font-size="8" font-weight="bold" fill="#222" text-anchor="middle" transform="rotate(-90 647.5 422)" >10</text>
<text x="700" y="313" font-family="Liberation Sans" font-size="7" font-weight="bold" fill="#222" text-anchor="middle" ></text>
<line x1="403.5" y1="352.9" x2="583.6" y2="352.9" stroke="#333" stroke-width="0.8" stroke-dasharray="4 2.5"/>
<line x1="403.5" y1="364.4" x2="583.6" y2="364.4" stroke="#333" stroke-width="0.8" stroke-dasharray="4 2.5"/>
<line x1="492.6" y1="277.3" x2="492.6" y2="353" stroke="#555" stroke-width="0.8" stroke-dasharray="4 2.5"/>
<line x1="504" y1="277.3" x2="504" y2="353" stroke="#555" stroke-width="0.8" stroke-dasharray="4 2.5"/>
<line x1="595.8" y1="277.3" x2="595.8" y2="326" stroke="#555" stroke-width="0.8" stroke-dasharray="4 2.5"/>
<line x1="607.4" y1="277.3" x2="607.4" y2="326" stroke="#555" stroke-width="0.8" stroke-dasharray="4 2.5"/>
<line x1="607.4" y1="326.5" x2="675" y2="326.5" stroke="#555" stroke-width="0.8" stroke-dasharray="4 2.5"/>
<line x1="675" y1="158.4" x2="675" y2="258.75" stroke="#555" stroke-width="0.8" stroke-dasharray="4 2.5"/>
<line x1="685.5" y1="158.4" x2="685.5" y2="258.75" stroke="#555" stroke-width="0.8" stroke-dasharray="4 2.5"/>
<line x1="614.4" y1="158.4" x2="675" y2="158.4" stroke="#555" stroke-width="0.8" stroke-dasharray="4 2.5"/>
<rect x="614.4" y="145" width="60.6" height="8" fill="#fff" stroke="#888" stroke-width="0.7" />
<line x1="616.0" y1="146" x2="616.0" y2="152" stroke="#aaa" stroke-width="0.5" />
<line x1="618.5" y1="146" x2="618.5" y2="152" stroke="#aaa" stroke-width="0.5" />
<line x1="621.0" y1="146" x2="621.0" y2="152" stroke="#aaa" stroke-width="0.5" />
<line x1="623.5" y1="146" x2="623.5" y2="152" stroke="#aaa" stroke-width="0.5" />
<line x1="626.0" y1="146" x2="626.0" y2="152" stroke="#aaa" stroke-width="0.5" />
<line x1="628.5" y1="146" x2="628.5" y2="152" stroke="#aaa" stroke-width="0.5" />
<line x1="631.0" y1="146" x2="631.0" y2="152" stroke="#aaa" stroke-width="0.5" />
<line x1="633.5" y1="146" x2="633.5" y2="152" stroke="#aaa" stroke-width="0.5" />
<line x1="636.0" y1="146" x2="636.0" y2="152" stroke="#aaa" stroke-width="0.5" />
<line x1="638.5" y1="146" x2="638.5" y2="152" stroke="#aaa" stroke-width="0.5" />
<line x1="641.0" y1="146" x2="641.0" y2="152" stroke="#aaa" stroke-width="0.5" />
<line x1="643.5" y1="146" x2="643.5" y2="152" stroke="#aaa" stroke-width="0.5" />
<line x1="646.0" y1="146" x2="646.0" y2="152" stroke="#aaa" stroke-width="0.5" />
<line x1="648.5" y1="146" x2="648.5" y2="152" stroke="#aaa" stroke-width="0.5" />
<line x1="651.0" y1="146" x2="651.0" y2="152" stroke="#aaa" stroke-width="0.5" />
<line x1="653.5" y1="146" x2="653.5" y2="152" stroke="#aaa" stroke-width="0.5" />
<line x1="656.0" y1="146" x2="656.0" y2="152" stroke="#aaa" stroke-width="0.5" />
<line x1="658.5" y1="146" x2="658.5" y2="152" stroke="#aaa" stroke-width="0.5" />
<line x1="661.0" y1="146" x2="661.0" y2="152" stroke="#aaa" stroke-width="0.5" />
<line x1="663.5" y1="146" x2="663.5" y2="152" stroke="#aaa" stroke-width="0.5" />
<line x1="666.0" y1="146" x2="666.0" y2="152" stroke="#aaa" stroke-width="0.5" />
<line x1="668.5" y1="146" x2="668.5" y2="152" stroke="#aaa" stroke-width="0.5" />
<line x1="671.0" y1="146" x2="671.0" y2="152" stroke="#aaa" stroke-width="0.5" />
<line x1="673.5" y1="146" x2="673.5" y2="152" stroke="#aaa" stroke-width="0.5" />
<rect x="674.5" y="146.5" width="11" height="11.8" fill="url(#dh)" stroke="#1a1a1a" stroke-width="1.5" />
<rect x="685.5" y="144" width="121.5" height="20.7" fill="none" stroke="#444" stroke-width="0.8" />
<line x1="744.5" y1="144" x2="744.5" y2="164.7" stroke="#444" stroke-width="0.8" />
<path d="M744.5,164.7 L744.5,353.5 L737.5,353.5" fill="none" stroke="#444" stroke-width="0.8"/>
<path d="M758.2,164.7 L758.2,367 L737.5,367" fill="none" stroke="#444" stroke-width="0.8"/>
<path d="M771.4,164.7 L771.4,380.7 L737.5,380.7" fill="none" stroke="#444" stroke-width="0.8"/>
<path d="M784.6,164.7 L784.6,393.3 L737.5,393.3" fill="none" stroke="#444" stroke-width="0.8"/>
<line x1="782.5" y1="394.7" x2="782.5" y2="622.6" stroke="#444" stroke-width="0.8" />
<line x1="807" y1="144" x2="807" y2="164.7" stroke="#444" stroke-width="0.8" />
<path d="M756.5,205 L745,218.5 L756.5,230" fill="none" stroke="#333" stroke-width="0.8"/>
<line x1="745" y1="218.5" x2="785" y2="218.5" stroke="#333" stroke-width="0.8" />
<text x="769" y="217.5" font-family="Liberation Sans" font-size="7.5" font-weight="bold" fill="#222" text-anchor="middle" >4 tr. 30 x</text>
<text x="770.5" y="227" font-family="Liberation Sans" font-size="7.5" font-weight="bold" fill="#222" text-anchor="middle" >17,5</text>
<rect x="505.8" y="160" width="38.9" height="38.2" rx="2.5" fill="#fff" stroke="#888" stroke-width="1"/>
<rect x="516" y="159.5" width="20.3" height="6.2" rx="1" fill="#fff" stroke="#666" stroke-width="0.9"/>
<ellipse cx="526.2" cy="179.2" rx="9.2" ry="10.8" fill="#fff" stroke="#333" stroke-width="1.3"/>
<line x1="508.5" y1="169" x2="539" y2="195" stroke="#444" stroke-width="0.8" />
<circle cx="509" cy="168.5" r="1" fill="#444"/>
<rect x="566.9" y="178.4" width="28" height="44.5" fill="#fff" stroke="#999" stroke-width="0.9" />
<ellipse cx="582.2" cy="201.3" rx="8.3" ry="12.4" fill="#fff" stroke="#555" stroke-width="1.6"/>
<rect x="591" y="199.5" width="3" height="3" fill="#333" stroke="none" stroke-width="0" />
<circle cx="553.3" cy="453.3" r="9.1" fill="#fff" stroke="#555" stroke-width="0.9"/>
<path d="M545.8,448.8 L560.8,448.8" stroke="#666" stroke-width="0.7"/>
<circle cx="546.8" cy="459.3" r="1" fill="#444"/><circle cx="559.8" cy="459.3" r="1" fill="#444"/>
<circle cx="580.5" cy="453.3" r="9.1" fill="#fff" stroke="#555" stroke-width="0.9"/>
<path d="M573.0,448.8 L588.0,448.8" stroke="#666" stroke-width="0.7"/>
<circle cx="574.0" cy="459.3" r="1" fill="#444"/><circle cx="587.0" cy="459.3" r="1" fill="#444"/>
<circle cx="553.3" cy="475.2" r="9.1" fill="#fff" stroke="#555" stroke-width="0.9"/>
<path d="M545.8,479.7 L560.8,479.7" stroke="#666" stroke-width="0.7"/>
<circle cx="546.8" cy="469.2" r="1" fill="#444"/><circle cx="559.8" cy="469.2" r="1" fill="#444"/>
<circle cx="580.5" cy="475.2" r="9.1" fill="#fff" stroke="#555" stroke-width="0.9"/>
<path d="M573.0,479.7 L588.0,479.7" stroke="#666" stroke-width="0.7"/>
<circle cx="574.0" cy="469.2" r="1" fill="#444"/><circle cx="587.0" cy="469.2" r="1" fill="#444"/>
<rect x="540.2" y="451.2" width="53.9" height="27.2" fill="none" stroke="#666" stroke-width="0.8"/>
<line x1="580.4" y1="528.2" x2="719.4" y2="528.2" stroke="#555" stroke-width="0.8" />
<rect x="540.7" y="526.2" width="39.7" height="33.4" fill="none" stroke="#666" stroke-width="0.8" />
<rect x="541.5" y="526.6" width="17.3" height="3" fill="#bbb" stroke="#444" stroke-width="0.6" />
<text x="560.5" y="546" font-family="Liberation Sans" font-size="7.5" font-weight="normal" fill="#444" text-anchor="middle" >F</text>
<polygon points="659.1,528.1 660.5,524.8 685.8,524.8 687.2,528.1" fill="#333"/>
<rect x="658.6" y="532" width="28.2" height="22.4" fill="#fff" stroke="#777" stroke-width="0.9" />
<rect x="663.8" y="533.5" width="21" height="19.5" fill="none" stroke="#888" stroke-width="0.7" />
<circle cx="668.9" cy="538.5" r="3.6" fill="#fff" stroke="#555" stroke-width="0.8"/>
<circle cx="679" cy="538.5" r="3.6" fill="#fff" stroke="#555" stroke-width="0.8"/>
<circle cx="668.9" cy="548.2" r="4.1" fill="#fff" stroke="#555" stroke-width="0.8"/>
<circle cx="679" cy="548.2" r="3.6" fill="#fff" stroke="#555" stroke-width="0.8"/>
<rect x="691.7" y="443.3" width="23.3" height="36.7" rx="2" fill="#fff" stroke="#777" stroke-width="1"/>
<rect x="695" y="446" width="16.5" height="15" fill="#666" stroke="none" stroke-width="0" />
<rect x="694" y="463" width="18.5" height="14.5" rx="1.5" fill="#fff" stroke="#888" stroke-width="0.8"/>
<line x1="711" y1="450" x2="711" y2="470" stroke="#222" stroke-width="1.6" />
<text x="689" y="468" font-family="Liberation Sans" font-size="6" font-weight="bold" fill="#222" text-anchor="middle" ></text>
<g fill="#fff" stroke="#666" stroke-width="0.9"><path d="M647,195 L646.3,183.5 Q649.5,180 653,183.5 L653.5,195 Z"/><path d="M657,197 L662,188 Q667,187 667,192 L661,201 Z"/><ellipse cx="656" cy="212.5" rx="2.6" ry="3.4"/><ellipse cx="650" cy="200.5" rx="12" ry="6.3" transform="rotate(-12 650 200.5)"/><circle cx="650" cy="200.8" r="4.3"/></g>
<rect x="356.3" y="345.3" width="35.2" height="2.2" fill="#ddd" stroke="#555" stroke-width="0.7" />
<path d="M391.5,310.1 A35.2,35.2 0 0 0 356.3,345.3" fill="none" stroke="#555" stroke-width="0.8"/>
<line x1="357.8" y1="328.7" x2="407.5" y2="328.7" stroke="#888" stroke-width="0.8" />
<text x="375.5" y="326.5" font-family="Liberation Sans" font-size="6.4" font-weight="normal" fill="#22dd22" text-anchor="middle" >0,90</text>
<text x="375.5" y="336" font-family="Liberation Sans" font-size="6.4" font-weight="normal" fill="#22dd22" text-anchor="middle" >2,10</text>
<line x1="352" y1="343" x2="352" y2="352.7" stroke="#333" stroke-width="0.7" />
<line x1="349.8" y1="347.2" x2="354.2" y2="342.8" stroke="#222" stroke-width="0.8" />
<line x1="349.2" y1="345" x2="354.8" y2="345" stroke="#222" stroke-width="0.5" />
<text x="348" y="345" font-family="Liberation Sans" font-size="8" font-weight="bold" fill="#222" text-anchor="middle" transform="rotate(-90 348 345)" >10</text>
<rect x="578.3" y="238" width="2.2" height="31.6" fill="#ddd" stroke="#555" stroke-width="0.7" />
<path d="M578.3,237 A33,33 0 0 0 545.3,270" fill="none" stroke="#555" stroke-width="0.8"/>
<line x1="563" y1="237" x2="563" y2="290" stroke="#888" stroke-width="0.8" />
<text x="560" y="255" font-family="Liberation Sans" font-size="6.6" font-weight="normal" fill="#22dd22" text-anchor="middle" transform="rotate(-90 560 255)" >0,80</text>
<text x="569" y="255" font-family="Liberation Sans" font-size="6.6" font-weight="normal" fill="#22dd22" text-anchor="middle" transform="rotate(-90 569 255)" >2,10</text>
<rect x="546.5" y="361.2" width="2.1" height="36.6" fill="#ddd" stroke="#555" stroke-width="0.7" />
<path d="M548.6,397.8 A35.5,35.5 0 0 0 584,362" fill="none" stroke="#555" stroke-width="0.8"/>
<line x1="565" y1="362" x2="565" y2="400" stroke="#888" stroke-width="0.8" />
<text x="561" y="382" font-family="Liberation Sans" font-size="6.2" font-weight="normal" fill="#22dd22" text-anchor="middle" transform="rotate(-90 561 382)" >0,90</text>
<text x="569.5" y="382" font-family="Liberation Sans" font-size="6.2" font-weight="normal" fill="#22dd22" text-anchor="middle" transform="rotate(-90 569.5 382)" >2,10</text>
<rect x="621.25" y="271.9" width="4.3" height="5.6" fill="#fff" stroke="#777" stroke-width="0.6" />
<rect x="661.25" y="271.9" width="3.8" height="5.6" fill="#fff" stroke="#777" stroke-width="0.6" />
<path d="M625.25,277.5 A36,36 0 0 0 661.25,313.5" fill="none" stroke="#555" stroke-width="0.8"/>
<line x1="661.25" y1="277.5" x2="661.25" y2="313.5" stroke="#777" stroke-width="0.8" />
<line x1="643.1" y1="255" x2="643.1" y2="310" stroke="#888" stroke-width="0.8" />
<text x="638.5" y="294" font-family="Liberation Sans" font-size="6.6" font-weight="normal" fill="#22dd22" text-anchor="middle" transform="rotate(-90 638.5 294)" >1,00</text>
<text x="647" y="294" font-family="Liberation Sans" font-size="6.6" font-weight="normal" fill="#22dd22" text-anchor="middle" transform="rotate(-90 647 294)" >2,15</text>
<polygon points="666.7,395.9 668.8,398 650.7,418.7 648.6,416.6" fill="#eee" stroke="#444" stroke-width="0.8"/>
<path d="M649.7,421.9 A30.7,30.7 0 0 0 686.8,418.7" fill="none" stroke="#555" stroke-width="0.8"/>
<line x1="651.8" y1="432" x2="681.5" y2="403.9" stroke="#666" stroke-width="0.8" />
<text x="660" y="416" font-family="Liberation Sans" font-size="6.2" fill="#22dd22" text-anchor="middle" transform="rotate(-45 660 416)">0,70</text>
<text x="669" y="422" font-family="Liberation Sans" font-size="6.2" fill="#22dd22" text-anchor="middle" transform="rotate(-45 669 422)">2,10</text>
<line x1="649.4" y1="276.25" x2="649.4" y2="559.6" stroke="#333" stroke-width="0.8" />
<line x1="647.1999999999999" y1="278.45" x2="651.6" y2="274.05" stroke="#222" stroke-width="0.8" />
<line x1="646.6" y1="276.25" x2="652.1999999999999" y2="276.25" stroke="#222" stroke-width="0.5" />
<text x="647.7" y="321" font-family="Liberation Sans" font-size="8" font-weight="bold" fill="#222" text-anchor="middle" transform="rotate(-90 647.7 321)" >1,70</text>
<line x1="688.4" y1="423" x2="688.4" y2="528.2" stroke="#666" stroke-width="0.8" />
<line x1="647.0" y1="416.2" x2="651.4000000000001" y2="411.8" stroke="#222" stroke-width="0.8" />
<line x1="646.4000000000001" y1="414" x2="652.0" y2="414" stroke="#222" stroke-width="0.5" />
<line x1="647.0" y1="426.2" x2="651.4000000000001" y2="421.8" stroke="#222" stroke-width="0.8" />
<line x1="646.4000000000001" y1="424" x2="652.0" y2="424" stroke="#222" stroke-width="0.5" />
<text x="647.5" y="495" font-family="Liberation Sans" font-size="8" font-weight="bold" fill="#222" text-anchor="middle" transform="rotate(-90 647.5 495)" >3,10</text>
</svg>
</body></html>
